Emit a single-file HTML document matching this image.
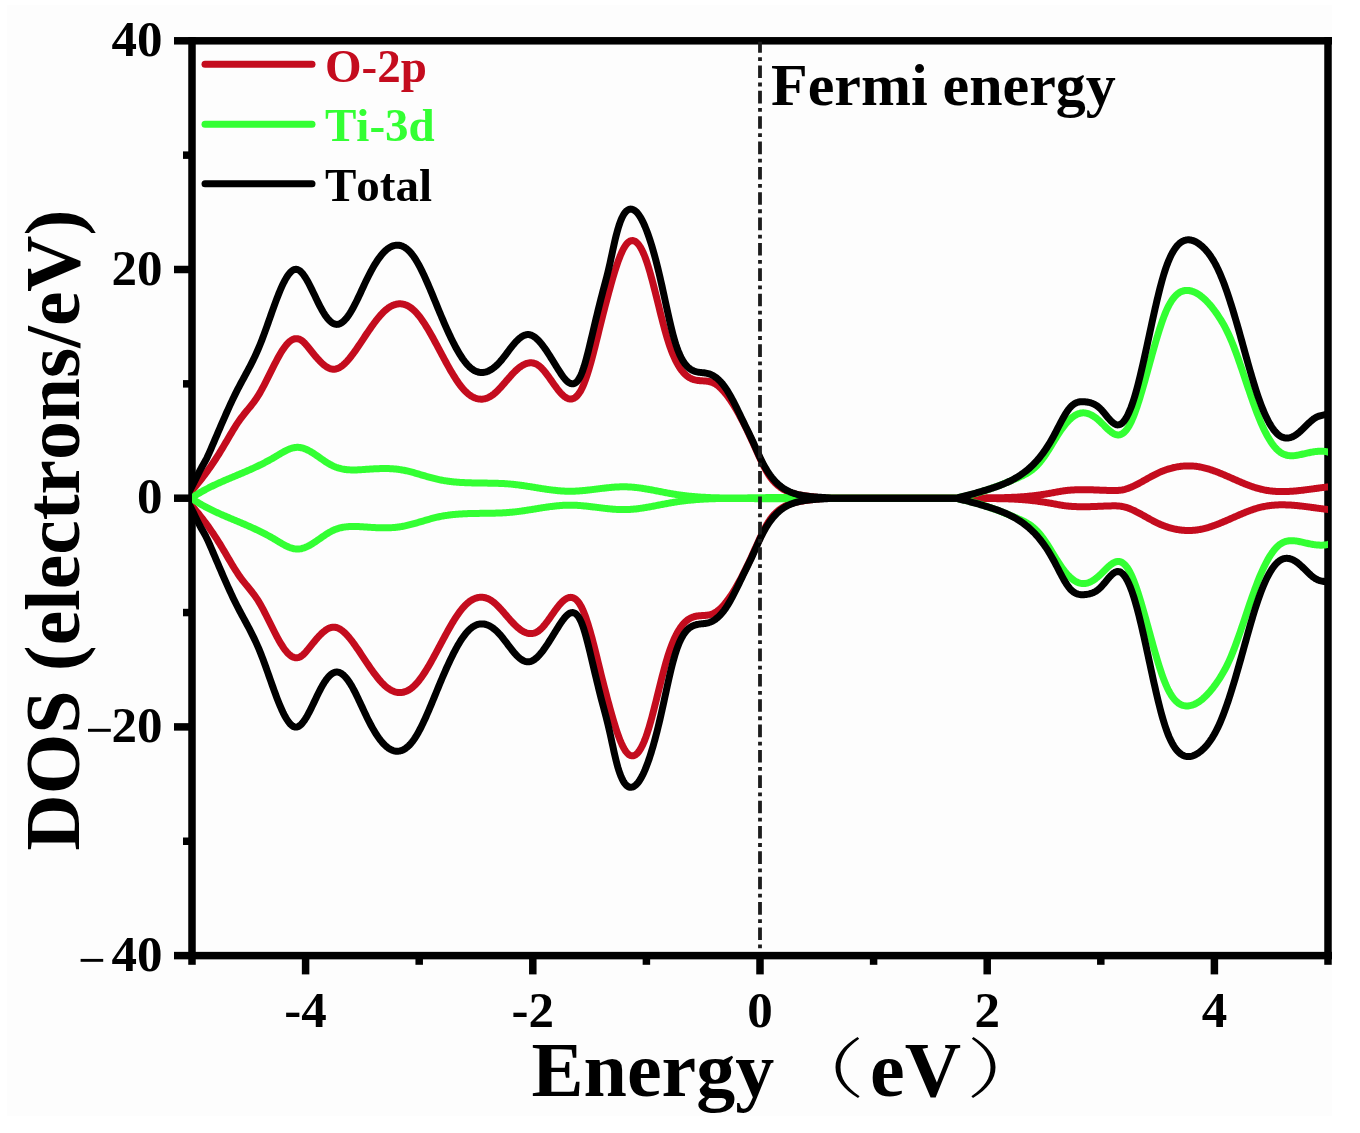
<!DOCTYPE html><html><head><meta charset="utf-8"><style>html,body{margin:0;padding:0;background:#fff;overflow:hidden;}svg{display:block;filter:blur(0.45px);}text{font-family:"Liberation Serif",serif;font-weight:bold;font-kerning:none;}</style></head><body>
<svg width="1360" height="1133" viewBox="0 0 1360 1133">
<rect x="0" y="0" width="1360" height="1133" fill="#ffffff"/>
<rect x="7" y="5" width="1325" height="1111" fill="#fdfdfd"/>
<g fill="#000">
<rect x="174" y="37.05" width="1158" height="7.5"/>
<rect x="174" y="951.85" width="1158" height="7.5"/>
<rect x="188.25" y="37.05" width="7.5" height="927.75"/>
<rect x="1324.25" y="37.05" width="7.5" height="927.75"/>
<rect x="174" y="265.75" width="16" height="7.5"/>
<rect x="174" y="494.45" width="16" height="7.5"/>
<rect x="174" y="723.15" width="16" height="7.5"/>
<rect x="183" y="151.40" width="7" height="7.5"/>
<rect x="183" y="380.10" width="7" height="7.5"/>
<rect x="183" y="608.80" width="7" height="7.5"/>
<rect x="183" y="837.50" width="7" height="7.5"/>
<rect x="301.85" y="957.35" width="7.5" height="17.05"/>
<rect x="529.05" y="957.35" width="7.5" height="17.05"/>
<rect x="756.25" y="957.35" width="7.5" height="17.05"/>
<rect x="983.45" y="957.35" width="7.5" height="17.05"/>
<rect x="1210.65" y="957.35" width="7.5" height="17.05"/>
<rect x="415.45" y="957.35" width="7.5" height="7.45"/>
<rect x="642.65" y="957.35" width="7.5" height="7.45"/>
<rect x="869.85" y="957.35" width="7.5" height="7.45"/>
<rect x="1097.05" y="957.35" width="7.5" height="7.45"/>
</g>
<clipPath id="pc"><rect x="192" y="0" width="1136" height="1133"/></clipPath><g clip-path="url(#pc)">
<path d="M188.0,494.90 189.0,493.80 190.0,492.69 191.0,491.56 192.0,490.43 193.0,489.27 194.0,488.11 195.0,486.93 196.0,485.74 197.0,484.53 198.0,483.31 199.0,482.08 200.0,480.83 201.0,479.56 202.0,478.28 203.0,476.98 204.0,475.66 205.0,474.33 206.0,472.99 207.0,471.62 208.0,470.24 209.0,468.84 210.0,467.42 211.0,465.98 212.0,464.53 213.0,463.06 214.0,461.56 215.0,460.05 216.0,458.52 217.0,456.97 218.0,455.39 219.0,453.80 220.0,452.19 221.0,450.55 222.0,448.90 223.0,447.22 224.0,445.54 225.0,443.84 226.0,442.13 227.0,440.42 228.0,438.71 229.0,437.01 230.0,435.31 231.0,433.62 232.0,431.95 233.0,430.30 234.0,428.66 235.0,427.06 236.0,425.48 237.0,423.93 238.0,422.42 239.0,420.95 240.0,419.52 241.0,418.14 242.0,416.81 243.0,415.51 244.0,414.24 245.0,413.00 246.0,411.78 247.0,410.57 248.0,409.36 249.0,408.14 250.0,406.92 251.0,405.68 252.0,404.41 253.0,403.12 254.0,401.79 255.0,400.41 256.0,398.98 257.0,397.49 258.0,395.93 259.0,394.31 260.0,392.62 261.0,390.87 262.0,389.06 263.0,387.21 264.0,385.31 265.0,383.38 266.0,381.42 267.0,379.44 268.0,377.43 269.0,375.42 270.0,373.40 271.0,371.38 272.0,369.37 273.0,367.37 274.0,365.39 275.0,363.43 276.0,361.51 277.0,359.62 278.0,357.77 279.0,355.98 280.0,354.24 281.0,352.56 282.0,350.95 283.0,349.41 284.0,347.95 285.0,346.58 286.0,345.30 287.0,344.12 288.0,343.04 289.0,342.08 290.0,341.22 291.0,340.49 292.0,339.87 293.0,339.37 294.0,339.00 295.0,338.75 296.0,338.63 297.0,338.64 298.0,338.78 299.0,339.06 300.0,339.47 301.0,340.02 302.0,340.72 303.0,341.55 304.0,342.49 305.0,343.53 306.0,344.65 307.0,345.83 308.0,347.05 309.0,348.29 310.0,349.54 311.0,350.79 312.0,352.03 313.0,353.27 314.0,354.49 315.0,355.69 316.0,356.87 317.0,358.03 318.0,359.15 319.0,360.24 320.0,361.29 321.0,362.29 322.0,363.24 323.0,364.14 324.0,364.98 325.0,365.76 326.0,366.48 327.0,367.12 328.0,367.68 329.0,368.17 330.0,368.57 331.0,368.88 332.0,369.10 333.0,369.22 334.0,369.24 335.0,369.15 336.0,368.96 337.0,368.68 338.0,368.30 339.0,367.83 340.0,367.27 341.0,366.63 342.0,365.92 343.0,365.12 344.0,364.26 345.0,363.33 346.0,362.34 347.0,361.28 348.0,360.17 349.0,359.01 350.0,357.79 351.0,356.54 352.0,355.24 353.0,353.90 354.0,352.53 355.0,351.13 356.0,349.71 357.0,348.26 358.0,346.80 359.0,345.32 360.0,343.83 361.0,342.33 362.0,340.82 363.0,339.32 364.0,337.81 365.0,336.31 366.0,334.81 367.0,333.32 368.0,331.84 369.0,330.37 370.0,328.92 371.0,327.49 372.0,326.07 373.0,324.68 374.0,323.31 375.0,321.97 376.0,320.66 377.0,319.39 378.0,318.14 379.0,316.94 380.0,315.77 381.0,314.65 382.0,313.57 383.0,312.54 384.0,311.56 385.0,310.63 386.0,309.75 387.0,308.93 388.0,308.18 389.0,307.48 390.0,306.84 391.0,306.26 392.0,305.74 393.0,305.29 394.0,304.89 395.0,304.56 396.0,304.29 397.0,304.08 398.0,303.93 399.0,303.85 400.0,303.83 401.0,303.87 402.0,303.98 403.0,304.15 404.0,304.39 405.0,304.69 406.0,305.06 407.0,305.49 408.0,305.99 409.0,306.56 410.0,307.19 411.0,307.89 412.0,308.65 413.0,309.49 414.0,310.39 415.0,311.36 416.0,312.40 417.0,313.50 418.0,314.67 419.0,315.90 420.0,317.19 421.0,318.54 422.0,319.94 423.0,321.39 424.0,322.89 425.0,324.43 426.0,326.01 427.0,327.64 428.0,329.30 429.0,330.99 430.0,332.72 431.0,334.47 432.0,336.25 433.0,338.05 434.0,339.87 435.0,341.71 436.0,343.56 437.0,345.43 438.0,347.30 439.0,349.18 440.0,351.06 441.0,352.94 442.0,354.82 443.0,356.69 444.0,358.56 445.0,360.41 446.0,362.25 447.0,364.08 448.0,365.88 449.0,367.66 450.0,369.42 451.0,371.15 452.0,372.85 453.0,374.51 454.0,376.14 455.0,377.73 456.0,379.28 457.0,380.79 458.0,382.24 459.0,383.65 460.0,385.01 461.0,386.30 462.0,387.54 463.0,388.72 464.0,389.84 465.0,390.89 466.0,391.88 467.0,392.81 468.0,393.68 469.0,394.48 470.0,395.22 471.0,395.89 472.0,396.50 473.0,397.05 474.0,397.54 475.0,397.96 476.0,398.32 477.0,398.62 478.0,398.85 479.0,399.02 480.0,399.12 481.0,399.17 482.0,399.14 483.0,399.06 484.0,398.91 485.0,398.70 486.0,398.42 487.0,398.08 488.0,397.67 489.0,397.20 490.0,396.67 491.0,396.07 492.0,395.41 493.0,394.68 494.0,393.89 495.0,393.04 496.0,392.15 497.0,391.20 498.0,390.21 499.0,389.18 500.0,388.12 501.0,387.03 502.0,385.92 503.0,384.78 504.0,383.63 505.0,382.47 506.0,381.31 507.0,380.14 508.0,378.98 509.0,377.83 510.0,376.69 511.0,375.57 512.0,374.47 513.0,373.40 514.0,372.37 515.0,371.36 516.0,370.41 517.0,369.49 518.0,368.62 519.0,367.81 520.0,367.04 521.0,366.33 522.0,365.67 523.0,365.08 524.0,364.55 525.0,364.08 526.0,363.68 527.0,363.35 528.0,363.10 529.0,362.92 530.0,362.81 531.0,362.79 532.0,362.85 533.0,363.00 534.0,363.23 535.0,363.55 536.0,363.97 537.0,364.48 538.0,365.10 539.0,365.81 540.0,366.62 541.0,367.54 542.0,368.54 543.0,369.61 544.0,370.77 545.0,371.98 546.0,373.25 547.0,374.57 548.0,375.92 549.0,377.31 550.0,378.72 551.0,380.14 552.0,381.57 553.0,382.99 554.0,384.41 555.0,385.81 556.0,387.18 557.0,388.51 558.0,389.80 559.0,391.04 560.0,392.22 561.0,393.33 562.0,394.36 563.0,395.31 564.0,396.17 565.0,396.93 566.0,397.58 567.0,398.12 568.0,398.54 569.0,398.84 570.0,399.01 571.0,399.03 572.0,398.91 573.0,398.64 574.0,398.21 575.0,397.61 576.0,396.84 577.0,395.90 578.0,394.76 579.0,393.44 580.0,391.91 581.0,390.18 582.0,388.23 583.0,386.07 584.0,383.69 585.0,381.11 586.0,378.34 587.0,375.38 588.0,372.26 589.0,368.99 590.0,365.57 591.0,362.02 592.0,358.36 593.0,354.59 594.0,350.72 595.0,346.78 596.0,342.77 597.0,338.71 598.0,334.62 599.0,330.53 600.0,326.46 601.0,322.41 602.0,318.42 603.0,314.48 604.0,310.58 605.0,306.73 606.0,302.91 607.0,299.12 608.0,295.37 609.0,291.66 610.0,287.99 611.0,284.39 612.0,280.85 613.0,277.39 614.0,274.03 615.0,270.77 616.0,267.63 617.0,264.61 618.0,261.72 619.0,258.98 620.0,256.40 621.0,253.99 622.0,251.75 623.0,249.70 624.0,247.85 625.0,246.20 626.0,244.76 627.0,243.54 628.0,242.53 629.0,241.72 630.0,241.13 631.0,240.75 632.0,240.57 633.0,240.61 634.0,240.85 635.0,241.30 636.0,241.95 637.0,242.81 638.0,243.88 639.0,245.15 640.0,246.62 641.0,248.30 642.0,250.19 643.0,252.27 644.0,254.56 645.0,257.05 646.0,259.74 647.0,262.63 648.0,265.71 649.0,268.97 650.0,272.38 651.0,275.93 652.0,279.60 653.0,283.38 654.0,287.25 655.0,291.18 656.0,295.17 657.0,299.19 658.0,303.23 659.0,307.27 660.0,311.29 661.0,315.28 662.0,319.21 663.0,323.08 664.0,326.85 665.0,330.53 666.0,334.08 667.0,337.49 668.0,340.75 669.0,343.84 670.0,346.77 671.0,349.54 672.0,352.16 673.0,354.63 674.0,356.95 675.0,359.14 676.0,361.19 677.0,363.11 678.0,364.90 679.0,366.57 680.0,368.12 681.0,369.55 682.0,370.87 683.0,372.09 684.0,373.21 685.0,374.22 686.0,375.15 687.0,375.98 688.0,376.73 689.0,377.40 690.0,377.99 691.0,378.51 692.0,378.96 693.0,379.34 694.0,379.67 695.0,379.94 696.0,380.16 697.0,380.34 698.0,380.48 699.0,380.59 700.0,380.68 701.0,380.75 702.0,380.81 703.0,380.87 704.0,380.93 705.0,381.00 706.0,381.09 707.0,381.20 708.0,381.34 709.0,381.52 710.0,381.74 711.0,382.02 712.0,382.35 713.0,382.74 714.0,383.21 715.0,383.75 716.0,384.36 717.0,385.05 718.0,385.81 719.0,386.63 720.0,387.52 721.0,388.47 722.0,389.49 723.0,390.56 724.0,391.69 725.0,392.87 726.0,394.10 727.0,395.39 728.0,396.72 729.0,398.11 730.0,399.54 731.0,401.03 732.0,402.55 733.0,404.12 734.0,405.74 735.0,407.39 736.0,409.09 737.0,410.82 738.0,412.60 739.0,414.41 740.0,416.25 741.0,418.13 742.0,420.04 743.0,421.99 744.0,423.97 745.0,425.97 746.0,428.00 747.0,430.06 748.0,432.15 749.0,434.26 750.0,436.39 751.0,438.55 752.0,440.72 753.0,442.92 754.0,445.13 755.0,447.35 756.0,449.58 757.0,451.80 758.0,454.00 759.0,456.19 760.0,458.35 761.0,460.47 762.0,462.56 763.0,464.59 764.0,466.56 765.0,468.47 766.0,470.30 767.0,472.05 768.0,473.71 769.0,475.28 770.0,476.74 771.0,478.11 772.0,479.39 773.0,480.59 774.0,481.70 775.0,482.75 776.0,483.73 777.0,484.65 778.0,485.51 779.0,486.32 780.0,487.08 781.0,487.80 782.0,488.48 783.0,489.11 784.0,489.69 785.0,490.24 786.0,490.76 787.0,491.23 788.0,491.67 789.0,492.08 790.0,492.46 791.0,492.82 792.0,493.14 793.0,493.44 794.0,493.72 795.0,493.97 796.0,494.21 797.0,494.43 798.0,494.63 799.0,494.82 800.0,495.00 801.0,495.17 802.0,495.33 803.0,495.48 804.0,495.63 805.0,495.77 806.0,495.91 807.0,496.05 808.0,496.19 809.0,496.32 810.0,496.45 811.0,496.58 812.0,496.71 813.0,496.83 814.0,496.95 815.0,497.07 816.0,497.18 817.0,497.30 818.0,497.41 819.0,497.51 820.0,497.62 821.0,497.72 822.0,497.82 823.0,497.92 824.0,498.01 825.0,498.20 826.0,498.20 827.0,498.20 828.0,498.20 829.0,498.20 830.0,498.20 831.0,498.20 832.0,498.20 833.0,498.20 834.0,498.20 835.0,498.20 836.0,498.20 837.0,498.20 838.0,498.20 839.0,498.20 840.0,498.20 841.0,498.20 842.0,498.20 843.0,498.20 844.0,498.20 845.0,498.20 846.0,498.20 847.0,498.20 848.0,498.20 849.0,498.20 850.0,498.20 851.0,498.20 852.0,498.20 853.0,498.20 854.0,498.20 855.0,498.20 856.0,498.20 857.0,498.20 858.0,498.20 859.0,498.20 860.0,498.20 861.0,498.20 862.0,498.20 863.0,498.20 864.0,498.20 865.0,498.20 866.0,498.20 867.0,498.20 868.0,498.20 869.0,498.20 870.0,498.20 871.0,498.20 872.0,498.20 873.0,498.20 874.0,498.20 875.0,498.20 876.0,498.20 877.0,498.20 878.0,498.20 879.0,498.20 880.0,498.20 881.0,498.20 882.0,498.20 883.0,498.20 884.0,498.20 885.0,498.20 886.0,498.20 887.0,498.20 888.0,498.20 889.0,498.20 890.0,498.20 891.0,498.20 892.0,498.20 893.0,498.20 894.0,498.20 895.0,498.20 896.0,498.20 897.0,498.20 898.0,498.20 899.0,498.20 900.0,498.20 901.0,498.20 902.0,498.20 903.0,498.20 904.0,498.20 905.0,498.20 906.0,498.20 907.0,498.20 908.0,498.20 909.0,498.20 910.0,498.20 911.0,498.20 912.0,498.20 913.0,498.20 914.0,498.20 915.0,498.20 916.0,498.20 917.0,498.20 918.0,498.20 919.0,498.20 920.0,498.20 921.0,498.20 922.0,498.20 923.0,498.20 924.0,498.20 925.0,498.20 926.0,498.20 927.0,498.20 928.0,498.20 929.0,498.20 930.0,498.20 931.0,498.20 932.0,498.20 933.0,498.20 934.0,498.20 935.0,498.20 936.0,498.20 937.0,498.20 938.0,498.20 939.0,498.20 940.0,498.20 941.0,498.20 942.0,498.20 943.0,498.20 944.0,498.20 945.0,498.20 946.0,498.20 947.0,498.20 948.0,498.20 949.0,498.20 950.0,498.20 951.0,498.20 952.0,498.20 953.0,498.20 954.0,498.20 955.0,498.20 956.0,498.20 957.0,498.20 958.0,498.20 959.0,498.20 960.0,498.20 961.0,498.20 962.0,498.20 963.0,498.20 964.0,498.20 965.0,498.20 966.0,498.20 967.0,498.20 968.0,498.20 969.0,498.20 970.0,498.20 971.0,498.20 972.0,498.20 973.0,498.20 974.0,498.20 975.0,498.20 976.0,497.95 977.0,497.94 978.0,497.93 979.0,497.92 980.0,497.91 981.0,497.90 982.0,497.90 983.0,497.89 984.0,497.89 985.0,497.88 986.0,497.87 987.0,497.87 988.0,497.86 989.0,497.85 990.0,497.85 991.0,497.84 992.0,497.83 993.0,497.82 994.0,497.81 995.0,497.80 996.0,497.79 997.0,497.77 998.0,497.76 999.0,497.74 1000.0,497.73 1001.0,497.71 1002.0,497.69 1003.0,497.67 1004.0,497.64 1005.0,497.62 1006.0,497.59 1007.0,497.56 1008.0,497.53 1009.0,497.49 1010.0,497.46 1011.0,497.42 1012.0,497.37 1013.0,497.33 1014.0,497.28 1015.0,497.23 1016.0,497.18 1017.0,497.12 1018.0,497.06 1019.0,497.00 1020.0,496.93 1021.0,496.86 1022.0,496.79 1023.0,496.71 1024.0,496.63 1025.0,496.55 1026.0,496.46 1027.0,496.37 1028.0,496.27 1029.0,496.17 1030.0,496.07 1031.0,495.97 1032.0,495.86 1033.0,495.75 1034.0,495.63 1035.0,495.51 1036.0,495.39 1037.0,495.26 1038.0,495.13 1039.0,494.99 1040.0,494.86 1041.0,494.71 1042.0,494.57 1043.0,494.42 1044.0,494.27 1045.0,494.11 1046.0,493.95 1047.0,493.79 1048.0,493.62 1049.0,493.45 1050.0,493.28 1051.0,493.10 1052.0,492.92 1053.0,492.73 1054.0,492.55 1055.0,492.36 1056.0,492.17 1057.0,491.98 1058.0,491.80 1059.0,491.62 1060.0,491.44 1061.0,491.27 1062.0,491.11 1063.0,490.96 1064.0,490.81 1065.0,490.68 1066.0,490.55 1067.0,490.44 1068.0,490.33 1069.0,490.24 1070.0,490.15 1071.0,490.07 1072.0,490.00 1073.0,489.93 1074.0,489.88 1075.0,489.83 1076.0,489.79 1077.0,489.75 1078.0,489.72 1079.0,489.70 1080.0,489.68 1081.0,489.67 1082.0,489.66 1083.0,489.66 1084.0,489.67 1085.0,489.67 1086.0,489.69 1087.0,489.70 1088.0,489.72 1089.0,489.75 1090.0,489.77 1091.0,489.80 1092.0,489.83 1093.0,489.87 1094.0,489.90 1095.0,489.94 1096.0,489.98 1097.0,490.02 1098.0,490.06 1099.0,490.10 1100.0,490.14 1101.0,490.18 1102.0,490.22 1103.0,490.26 1104.0,490.30 1105.0,490.34 1106.0,490.37 1107.0,490.41 1108.0,490.44 1109.0,490.47 1110.0,490.50 1111.0,490.52 1112.0,490.54 1113.0,490.56 1114.0,490.56 1115.0,490.55 1116.0,490.53 1117.0,490.50 1118.0,490.44 1119.0,490.36 1120.0,490.26 1121.0,490.13 1122.0,489.97 1123.0,489.78 1124.0,489.55 1125.0,489.30 1126.0,489.01 1127.0,488.70 1128.0,488.37 1129.0,488.00 1130.0,487.62 1131.0,487.21 1132.0,486.78 1133.0,486.33 1134.0,485.87 1135.0,485.39 1136.0,484.89 1137.0,484.38 1138.0,483.86 1139.0,483.33 1140.0,482.79 1141.0,482.24 1142.0,481.68 1143.0,481.12 1144.0,480.56 1145.0,480.00 1146.0,479.43 1147.0,478.87 1148.0,478.31 1149.0,477.75 1150.0,477.19 1151.0,476.65 1152.0,476.11 1153.0,475.57 1154.0,475.05 1155.0,474.54 1156.0,474.04 1157.0,473.55 1158.0,473.08 1159.0,472.62 1160.0,472.17 1161.0,471.74 1162.0,471.33 1163.0,470.93 1164.0,470.55 1165.0,470.18 1166.0,469.82 1167.0,469.48 1168.0,469.16 1169.0,468.85 1170.0,468.56 1171.0,468.28 1172.0,468.01 1173.0,467.76 1174.0,467.53 1175.0,467.31 1176.0,467.11 1177.0,466.92 1178.0,466.75 1179.0,466.60 1180.0,466.46 1181.0,466.33 1182.0,466.22 1183.0,466.13 1184.0,466.05 1185.0,465.98 1186.0,465.94 1187.0,465.91 1188.0,465.89 1189.0,465.89 1190.0,465.90 1191.0,465.94 1192.0,465.98 1193.0,466.05 1194.0,466.12 1195.0,466.22 1196.0,466.33 1197.0,466.46 1198.0,466.60 1199.0,466.76 1200.0,466.93 1201.0,467.12 1202.0,467.33 1203.0,467.55 1204.0,467.79 1205.0,468.04 1206.0,468.30 1207.0,468.58 1208.0,468.87 1209.0,469.17 1210.0,469.48 1211.0,469.80 1212.0,470.14 1213.0,470.48 1214.0,470.84 1215.0,471.20 1216.0,471.57 1217.0,471.95 1218.0,472.34 1219.0,472.74 1220.0,473.14 1221.0,473.55 1222.0,473.96 1223.0,474.38 1224.0,474.80 1225.0,475.23 1226.0,475.66 1227.0,476.10 1228.0,476.53 1229.0,476.97 1230.0,477.42 1231.0,477.86 1232.0,478.30 1233.0,478.74 1234.0,479.19 1235.0,479.63 1236.0,480.07 1237.0,480.51 1238.0,480.95 1239.0,481.38 1240.0,481.81 1241.0,482.24 1242.0,482.66 1243.0,483.08 1244.0,483.49 1245.0,483.90 1246.0,484.30 1247.0,484.69 1248.0,485.08 1249.0,485.46 1250.0,485.83 1251.0,486.19 1252.0,486.55 1253.0,486.89 1254.0,487.22 1255.0,487.54 1256.0,487.86 1257.0,488.16 1258.0,488.44 1259.0,488.72 1260.0,488.98 1261.0,489.23 1262.0,489.46 1263.0,489.68 1264.0,489.89 1265.0,490.08 1266.0,490.26 1267.0,490.43 1268.0,490.58 1269.0,490.72 1270.0,490.85 1271.0,490.97 1272.0,491.08 1273.0,491.17 1274.0,491.26 1275.0,491.33 1276.0,491.40 1277.0,491.45 1278.0,491.49 1279.0,491.53 1280.0,491.55 1281.0,491.57 1282.0,491.58 1283.0,491.58 1284.0,491.57 1285.0,491.55 1286.0,491.52 1287.0,491.49 1288.0,491.45 1289.0,491.40 1290.0,491.35 1291.0,491.29 1292.0,491.22 1293.0,491.15 1294.0,491.07 1295.0,490.98 1296.0,490.89 1297.0,490.80 1298.0,490.70 1299.0,490.60 1300.0,490.49 1301.0,490.38 1302.0,490.27 1303.0,490.15 1304.0,490.03 1305.0,489.90 1306.0,489.78 1307.0,489.65 1308.0,489.52 1309.0,489.39 1310.0,489.25 1311.0,489.12 1312.0,488.98 1313.0,488.85 1314.0,488.71 1315.0,488.57 1316.0,488.44 1317.0,488.30 1318.0,488.17 1319.0,488.03 1320.0,487.90 1321.0,487.77 1322.0,487.64 1323.0,487.51 1324.0,487.38 1325.0,487.26 1326.0,487.14 1327.0,487.02 1328.0,486.91 1329.0,486.79 1330.0,486.69 1331.0,486.58 1332.0,486.49" stroke="#c40c1e" stroke-width="7" fill="none" stroke-linejoin="round"/>
<path d="M188.0,501.50 189.0,502.60 190.0,503.71 191.0,504.84 192.0,505.97 193.0,507.13 194.0,508.29 195.0,509.47 196.0,510.66 197.0,511.87 198.0,513.09 199.0,514.32 200.0,515.57 201.0,516.84 202.0,518.12 203.0,519.42 204.0,520.74 205.0,522.07 206.0,523.41 207.0,524.78 208.0,526.16 209.0,527.56 210.0,528.98 211.0,530.42 212.0,531.87 213.0,533.34 214.0,534.84 215.0,536.35 216.0,537.88 217.0,539.43 218.0,541.01 219.0,542.60 220.0,544.21 221.0,545.85 222.0,547.50 223.0,549.18 224.0,550.86 225.0,552.56 226.0,554.27 227.0,555.98 228.0,557.69 229.0,559.39 230.0,561.09 231.0,562.78 232.0,564.45 233.0,566.10 234.0,567.74 235.0,569.34 236.0,570.92 237.0,572.47 238.0,573.98 239.0,575.45 240.0,576.88 241.0,578.26 242.0,579.59 243.0,580.89 244.0,582.16 245.0,583.40 246.0,584.62 247.0,585.83 248.0,587.04 249.0,588.26 250.0,589.48 251.0,590.72 252.0,591.99 253.0,593.28 254.0,594.61 255.0,595.99 256.0,597.42 257.0,598.91 258.0,600.47 259.0,602.09 260.0,603.78 261.0,605.53 262.0,607.34 263.0,609.19 264.0,611.09 265.0,613.02 266.0,614.98 267.0,616.96 268.0,618.97 269.0,620.98 270.0,623.00 271.0,625.02 272.0,627.03 273.0,629.03 274.0,631.01 275.0,632.97 276.0,634.89 277.0,636.78 278.0,638.63 279.0,640.42 280.0,642.16 281.0,643.84 282.0,645.45 283.0,646.99 284.0,648.45 285.0,649.82 286.0,651.10 287.0,652.28 288.0,653.36 289.0,654.32 290.0,655.18 291.0,655.91 292.0,656.53 293.0,657.03 294.0,657.40 295.0,657.65 296.0,657.77 297.0,657.76 298.0,657.62 299.0,657.34 300.0,656.93 301.0,656.38 302.0,655.68 303.0,654.85 304.0,653.91 305.0,652.87 306.0,651.75 307.0,650.57 308.0,649.35 309.0,648.11 310.0,646.86 311.0,645.61 312.0,644.37 313.0,643.13 314.0,641.91 315.0,640.71 316.0,639.53 317.0,638.37 318.0,637.25 319.0,636.16 320.0,635.11 321.0,634.11 322.0,633.16 323.0,632.26 324.0,631.42 325.0,630.64 326.0,629.92 327.0,629.28 328.0,628.72 329.0,628.23 330.0,627.83 331.0,627.52 332.0,627.30 333.0,627.18 334.0,627.16 335.0,627.25 336.0,627.44 337.0,627.72 338.0,628.10 339.0,628.57 340.0,629.13 341.0,629.77 342.0,630.48 343.0,631.28 344.0,632.14 345.0,633.07 346.0,634.06 347.0,635.12 348.0,636.23 349.0,637.39 350.0,638.61 351.0,639.86 352.0,641.16 353.0,642.50 354.0,643.87 355.0,645.27 356.0,646.69 357.0,648.14 358.0,649.60 359.0,651.08 360.0,652.57 361.0,654.07 362.0,655.58 363.0,657.08 364.0,658.59 365.0,660.09 366.0,661.59 367.0,663.08 368.0,664.56 369.0,666.03 370.0,667.48 371.0,668.91 372.0,670.33 373.0,671.72 374.0,673.09 375.0,674.43 376.0,675.74 377.0,677.01 378.0,678.26 379.0,679.46 380.0,680.63 381.0,681.75 382.0,682.83 383.0,683.86 384.0,684.84 385.0,685.77 386.0,686.65 387.0,687.47 388.0,688.22 389.0,688.92 390.0,689.56 391.0,690.14 392.0,690.66 393.0,691.11 394.0,691.51 395.0,691.84 396.0,692.11 397.0,692.32 398.0,692.47 399.0,692.55 400.0,692.57 401.0,692.53 402.0,692.42 403.0,692.25 404.0,692.01 405.0,691.71 406.0,691.34 407.0,690.91 408.0,690.41 409.0,689.84 410.0,689.21 411.0,688.51 412.0,687.75 413.0,686.91 414.0,686.01 415.0,685.04 416.0,684.00 417.0,682.90 418.0,681.73 419.0,680.50 420.0,679.21 421.0,677.86 422.0,676.46 423.0,675.01 424.0,673.51 425.0,671.97 426.0,670.39 427.0,668.76 428.0,667.10 429.0,665.41 430.0,663.68 431.0,661.93 432.0,660.15 433.0,658.35 434.0,656.53 435.0,654.69 436.0,652.84 437.0,650.97 438.0,649.10 439.0,647.22 440.0,645.34 441.0,643.46 442.0,641.58 443.0,639.71 444.0,637.84 445.0,635.99 446.0,634.15 447.0,632.32 448.0,630.52 449.0,628.74 450.0,626.98 451.0,625.25 452.0,623.55 453.0,621.89 454.0,620.26 455.0,618.67 456.0,617.12 457.0,615.61 458.0,614.16 459.0,612.75 460.0,611.39 461.0,610.10 462.0,608.86 463.0,607.68 464.0,606.56 465.0,605.51 466.0,604.52 467.0,603.59 468.0,602.72 469.0,601.92 470.0,601.18 471.0,600.51 472.0,599.90 473.0,599.35 474.0,598.86 475.0,598.44 476.0,598.08 477.0,597.78 478.0,597.55 479.0,597.38 480.0,597.28 481.0,597.23 482.0,597.26 483.0,597.34 484.0,597.49 485.0,597.70 486.0,597.98 487.0,598.32 488.0,598.73 489.0,599.20 490.0,599.73 491.0,600.33 492.0,600.99 493.0,601.72 494.0,602.51 495.0,603.36 496.0,604.25 497.0,605.20 498.0,606.19 499.0,607.22 500.0,608.28 501.0,609.37 502.0,610.48 503.0,611.62 504.0,612.77 505.0,613.93 506.0,615.09 507.0,616.26 508.0,617.42 509.0,618.57 510.0,619.71 511.0,620.83 512.0,621.93 513.0,623.00 514.0,624.03 515.0,625.04 516.0,625.99 517.0,626.91 518.0,627.78 519.0,628.59 520.0,629.36 521.0,630.07 522.0,630.73 523.0,631.32 524.0,631.85 525.0,632.32 526.0,632.72 527.0,633.05 528.0,633.30 529.0,633.48 530.0,633.59 531.0,633.61 532.0,633.55 533.0,633.40 534.0,633.17 535.0,632.85 536.0,632.43 537.0,631.92 538.0,631.30 539.0,630.59 540.0,629.78 541.0,628.86 542.0,627.86 543.0,626.79 544.0,625.63 545.0,624.42 546.0,623.15 547.0,621.83 548.0,620.48 549.0,619.09 550.0,617.68 551.0,616.26 552.0,614.83 553.0,613.41 554.0,611.99 555.0,610.59 556.0,609.22 557.0,607.89 558.0,606.60 559.0,605.36 560.0,604.18 561.0,603.07 562.0,602.04 563.0,601.09 564.0,600.23 565.0,599.47 566.0,598.82 567.0,598.28 568.0,597.86 569.0,597.56 570.0,597.39 571.0,597.37 572.0,597.49 573.0,597.76 574.0,598.19 575.0,598.79 576.0,599.56 577.0,600.50 578.0,601.64 579.0,602.96 580.0,604.49 581.0,606.22 582.0,608.17 583.0,610.33 584.0,612.71 585.0,615.29 586.0,618.06 587.0,621.02 588.0,624.14 589.0,627.41 590.0,630.83 591.0,634.38 592.0,638.04 593.0,641.81 594.0,645.68 595.0,649.62 596.0,653.63 597.0,657.69 598.0,661.78 599.0,665.87 600.0,669.94 601.0,673.99 602.0,677.98 603.0,681.92 604.0,685.82 605.0,689.67 606.0,693.49 607.0,697.28 608.0,701.03 609.0,704.74 610.0,708.41 611.0,712.01 612.0,715.55 613.0,719.01 614.0,722.37 615.0,725.63 616.0,728.77 617.0,731.79 618.0,734.68 619.0,737.42 620.0,740.00 621.0,742.41 622.0,744.65 623.0,746.70 624.0,748.55 625.0,750.20 626.0,751.64 627.0,752.86 628.0,753.87 629.0,754.68 630.0,755.27 631.0,755.65 632.0,755.83 633.0,755.79 634.0,755.55 635.0,755.10 636.0,754.45 637.0,753.59 638.0,752.52 639.0,751.25 640.0,749.78 641.0,748.10 642.0,746.21 643.0,744.13 644.0,741.84 645.0,739.35 646.0,736.66 647.0,733.77 648.0,730.69 649.0,727.43 650.0,724.02 651.0,720.47 652.0,716.80 653.0,713.02 654.0,709.15 655.0,705.22 656.0,701.23 657.0,697.21 658.0,693.17 659.0,689.13 660.0,685.11 661.0,681.12 662.0,677.19 663.0,673.32 664.0,669.55 665.0,665.87 666.0,662.32 667.0,658.91 668.0,655.65 669.0,652.56 670.0,649.63 671.0,646.86 672.0,644.24 673.0,641.77 674.0,639.45 675.0,637.26 676.0,635.21 677.0,633.29 678.0,631.50 679.0,629.83 680.0,628.28 681.0,626.85 682.0,625.53 683.0,624.31 684.0,623.19 685.0,622.18 686.0,621.25 687.0,620.42 688.0,619.67 689.0,619.00 690.0,618.41 691.0,617.89 692.0,617.44 693.0,617.06 694.0,616.73 695.0,616.46 696.0,616.24 697.0,616.06 698.0,615.92 699.0,615.81 700.0,615.72 701.0,615.65 702.0,615.59 703.0,615.53 704.0,615.47 705.0,615.40 706.0,615.31 707.0,615.20 708.0,615.06 709.0,614.88 710.0,614.66 711.0,614.38 712.0,614.05 713.0,613.66 714.0,613.19 715.0,612.65 716.0,612.04 717.0,611.35 718.0,610.59 719.0,609.77 720.0,608.88 721.0,607.93 722.0,606.91 723.0,605.84 724.0,604.71 725.0,603.53 726.0,602.30 727.0,601.01 728.0,599.68 729.0,598.29 730.0,596.86 731.0,595.37 732.0,593.85 733.0,592.28 734.0,590.66 735.0,589.01 736.0,587.31 737.0,585.58 738.0,583.80 739.0,581.99 740.0,580.15 741.0,578.27 742.0,576.36 743.0,574.41 744.0,572.43 745.0,570.43 746.0,568.40 747.0,566.34 748.0,564.25 749.0,562.14 750.0,560.01 751.0,557.85 752.0,555.68 753.0,553.48 754.0,551.27 755.0,549.05 756.0,546.82 757.0,544.60 758.0,542.40 759.0,540.21 760.0,538.05 761.0,535.93 762.0,533.84 763.0,531.81 764.0,529.84 765.0,527.93 766.0,526.10 767.0,524.35 768.0,522.69 769.0,521.12 770.0,519.66 771.0,518.29 772.0,517.01 773.0,515.81 774.0,514.70 775.0,513.65 776.0,512.67 777.0,511.75 778.0,510.89 779.0,510.08 780.0,509.32 781.0,508.60 782.0,507.92 783.0,507.29 784.0,506.71 785.0,506.16 786.0,505.64 787.0,505.17 788.0,504.73 789.0,504.32 790.0,503.94 791.0,503.58 792.0,503.26 793.0,502.96 794.0,502.68 795.0,502.43 796.0,502.19 797.0,501.97 798.0,501.77 799.0,501.58 800.0,501.40 801.0,501.23 802.0,501.07 803.0,500.92 804.0,500.77 805.0,500.63 806.0,500.49 807.0,500.35 808.0,500.21 809.0,500.08 810.0,499.95 811.0,499.82 812.0,499.69 813.0,499.57 814.0,499.45 815.0,499.33 816.0,499.22 817.0,499.10 818.0,498.99 819.0,498.89 820.0,498.78 821.0,498.68 822.0,498.58 823.0,498.48 824.0,498.39 825.0,498.20 826.0,498.20 827.0,498.20 828.0,498.20 829.0,498.20 830.0,498.20 831.0,498.20 832.0,498.20 833.0,498.20 834.0,498.20 835.0,498.20 836.0,498.20 837.0,498.20 838.0,498.20 839.0,498.20 840.0,498.20 841.0,498.20 842.0,498.20 843.0,498.20 844.0,498.20 845.0,498.20 846.0,498.20 847.0,498.20 848.0,498.20 849.0,498.20 850.0,498.20 851.0,498.20 852.0,498.20 853.0,498.20 854.0,498.20 855.0,498.20 856.0,498.20 857.0,498.20 858.0,498.20 859.0,498.20 860.0,498.20 861.0,498.20 862.0,498.20 863.0,498.20 864.0,498.20 865.0,498.20 866.0,498.20 867.0,498.20 868.0,498.20 869.0,498.20 870.0,498.20 871.0,498.20 872.0,498.20 873.0,498.20 874.0,498.20 875.0,498.20 876.0,498.20 877.0,498.20 878.0,498.20 879.0,498.20 880.0,498.20 881.0,498.20 882.0,498.20 883.0,498.20 884.0,498.20 885.0,498.20 886.0,498.20 887.0,498.20 888.0,498.20 889.0,498.20 890.0,498.20 891.0,498.20 892.0,498.20 893.0,498.20 894.0,498.20 895.0,498.20 896.0,498.20 897.0,498.20 898.0,498.20 899.0,498.20 900.0,498.20 901.0,498.20 902.0,498.20 903.0,498.20 904.0,498.20 905.0,498.20 906.0,498.20 907.0,498.20 908.0,498.20 909.0,498.20 910.0,498.20 911.0,498.20 912.0,498.20 913.0,498.20 914.0,498.20 915.0,498.20 916.0,498.20 917.0,498.20 918.0,498.20 919.0,498.20 920.0,498.20 921.0,498.20 922.0,498.20 923.0,498.20 924.0,498.20 925.0,498.20 926.0,498.20 927.0,498.20 928.0,498.20 929.0,498.20 930.0,498.20 931.0,498.20 932.0,498.20 933.0,498.20 934.0,498.20 935.0,498.20 936.0,498.20 937.0,498.20 938.0,498.20 939.0,498.20 940.0,498.20 941.0,498.20 942.0,498.20 943.0,498.20 944.0,498.20 945.0,498.20 946.0,498.20 947.0,498.20 948.0,498.20 949.0,498.20 950.0,498.20 951.0,498.20 952.0,498.20 953.0,498.20 954.0,498.20 955.0,498.20 956.0,498.20 957.0,498.20 958.0,498.20 959.0,498.20 960.0,498.20 961.0,498.20 962.0,498.20 963.0,498.20 964.0,498.20 965.0,498.20 966.0,498.20 967.0,498.20 968.0,498.20 969.0,498.20 970.0,498.20 971.0,498.20 972.0,498.20 973.0,498.20 974.0,498.20 975.0,498.20 976.0,498.45 977.0,498.46 978.0,498.47 979.0,498.48 980.0,498.49 981.0,498.50 982.0,498.50 983.0,498.51 984.0,498.51 985.0,498.52 986.0,498.53 987.0,498.53 988.0,498.54 989.0,498.55 990.0,498.55 991.0,498.56 992.0,498.57 993.0,498.58 994.0,498.59 995.0,498.60 996.0,498.61 997.0,498.63 998.0,498.64 999.0,498.66 1000.0,498.67 1001.0,498.69 1002.0,498.71 1003.0,498.73 1004.0,498.76 1005.0,498.78 1006.0,498.81 1007.0,498.84 1008.0,498.87 1009.0,498.91 1010.0,498.94 1011.0,498.98 1012.0,499.03 1013.0,499.07 1014.0,499.12 1015.0,499.17 1016.0,499.22 1017.0,499.28 1018.0,499.34 1019.0,499.40 1020.0,499.47 1021.0,499.54 1022.0,499.61 1023.0,499.69 1024.0,499.77 1025.0,499.85 1026.0,499.94 1027.0,500.03 1028.0,500.13 1029.0,500.23 1030.0,500.33 1031.0,500.43 1032.0,500.54 1033.0,500.65 1034.0,500.77 1035.0,500.89 1036.0,501.01 1037.0,501.14 1038.0,501.27 1039.0,501.41 1040.0,501.54 1041.0,501.69 1042.0,501.83 1043.0,501.98 1044.0,502.13 1045.0,502.29 1046.0,502.45 1047.0,502.61 1048.0,502.78 1049.0,502.95 1050.0,503.12 1051.0,503.30 1052.0,503.48 1053.0,503.67 1054.0,503.85 1055.0,504.04 1056.0,504.23 1057.0,504.42 1058.0,504.60 1059.0,504.78 1060.0,504.96 1061.0,505.13 1062.0,505.29 1063.0,505.44 1064.0,505.59 1065.0,505.72 1066.0,505.85 1067.0,505.96 1068.0,506.07 1069.0,506.16 1070.0,506.25 1071.0,506.33 1072.0,506.40 1073.0,506.47 1074.0,506.52 1075.0,506.57 1076.0,506.61 1077.0,506.65 1078.0,506.68 1079.0,506.70 1080.0,506.72 1081.0,506.73 1082.0,506.74 1083.0,506.74 1084.0,506.73 1085.0,506.73 1086.0,506.71 1087.0,506.70 1088.0,506.68 1089.0,506.65 1090.0,506.63 1091.0,506.60 1092.0,506.57 1093.0,506.53 1094.0,506.50 1095.0,506.46 1096.0,506.42 1097.0,506.38 1098.0,506.34 1099.0,506.30 1100.0,506.26 1101.0,506.22 1102.0,506.18 1103.0,506.14 1104.0,506.10 1105.0,506.06 1106.0,506.03 1107.0,505.99 1108.0,505.96 1109.0,505.93 1110.0,505.90 1111.0,505.88 1112.0,505.86 1113.0,505.84 1114.0,505.84 1115.0,505.85 1116.0,505.87 1117.0,505.90 1118.0,505.96 1119.0,506.04 1120.0,506.14 1121.0,506.27 1122.0,506.43 1123.0,506.62 1124.0,506.85 1125.0,507.10 1126.0,507.39 1127.0,507.70 1128.0,508.03 1129.0,508.40 1130.0,508.78 1131.0,509.19 1132.0,509.62 1133.0,510.07 1134.0,510.53 1135.0,511.01 1136.0,511.51 1137.0,512.02 1138.0,512.54 1139.0,513.07 1140.0,513.61 1141.0,514.16 1142.0,514.72 1143.0,515.28 1144.0,515.84 1145.0,516.40 1146.0,516.97 1147.0,517.53 1148.0,518.09 1149.0,518.65 1150.0,519.21 1151.0,519.75 1152.0,520.29 1153.0,520.83 1154.0,521.35 1155.0,521.86 1156.0,522.36 1157.0,522.85 1158.0,523.32 1159.0,523.78 1160.0,524.23 1161.0,524.66 1162.0,525.07 1163.0,525.47 1164.0,525.85 1165.0,526.22 1166.0,526.58 1167.0,526.92 1168.0,527.24 1169.0,527.55 1170.0,527.84 1171.0,528.12 1172.0,528.39 1173.0,528.64 1174.0,528.87 1175.0,529.09 1176.0,529.29 1177.0,529.48 1178.0,529.65 1179.0,529.80 1180.0,529.94 1181.0,530.07 1182.0,530.18 1183.0,530.27 1184.0,530.35 1185.0,530.42 1186.0,530.46 1187.0,530.49 1188.0,530.51 1189.0,530.51 1190.0,530.50 1191.0,530.46 1192.0,530.42 1193.0,530.35 1194.0,530.28 1195.0,530.18 1196.0,530.07 1197.0,529.94 1198.0,529.80 1199.0,529.64 1200.0,529.47 1201.0,529.28 1202.0,529.07 1203.0,528.85 1204.0,528.61 1205.0,528.36 1206.0,528.10 1207.0,527.82 1208.0,527.53 1209.0,527.23 1210.0,526.92 1211.0,526.60 1212.0,526.26 1213.0,525.92 1214.0,525.56 1215.0,525.20 1216.0,524.83 1217.0,524.45 1218.0,524.06 1219.0,523.66 1220.0,523.26 1221.0,522.85 1222.0,522.44 1223.0,522.02 1224.0,521.60 1225.0,521.17 1226.0,520.74 1227.0,520.30 1228.0,519.87 1229.0,519.43 1230.0,518.98 1231.0,518.54 1232.0,518.10 1233.0,517.66 1234.0,517.21 1235.0,516.77 1236.0,516.33 1237.0,515.89 1238.0,515.45 1239.0,515.02 1240.0,514.59 1241.0,514.16 1242.0,513.74 1243.0,513.32 1244.0,512.91 1245.0,512.50 1246.0,512.10 1247.0,511.71 1248.0,511.32 1249.0,510.94 1250.0,510.57 1251.0,510.21 1252.0,509.85 1253.0,509.51 1254.0,509.18 1255.0,508.86 1256.0,508.54 1257.0,508.24 1258.0,507.96 1259.0,507.68 1260.0,507.42 1261.0,507.17 1262.0,506.94 1263.0,506.72 1264.0,506.51 1265.0,506.32 1266.0,506.14 1267.0,505.97 1268.0,505.82 1269.0,505.68 1270.0,505.55 1271.0,505.43 1272.0,505.32 1273.0,505.23 1274.0,505.14 1275.0,505.07 1276.0,505.00 1277.0,504.95 1278.0,504.91 1279.0,504.87 1280.0,504.85 1281.0,504.83 1282.0,504.82 1283.0,504.82 1284.0,504.83 1285.0,504.85 1286.0,504.88 1287.0,504.91 1288.0,504.95 1289.0,505.00 1290.0,505.05 1291.0,505.11 1292.0,505.18 1293.0,505.25 1294.0,505.33 1295.0,505.42 1296.0,505.51 1297.0,505.60 1298.0,505.70 1299.0,505.80 1300.0,505.91 1301.0,506.02 1302.0,506.13 1303.0,506.25 1304.0,506.37 1305.0,506.50 1306.0,506.62 1307.0,506.75 1308.0,506.88 1309.0,507.01 1310.0,507.15 1311.0,507.28 1312.0,507.42 1313.0,507.55 1314.0,507.69 1315.0,507.83 1316.0,507.96 1317.0,508.10 1318.0,508.23 1319.0,508.37 1320.0,508.50 1321.0,508.63 1322.0,508.76 1323.0,508.89 1324.0,509.02 1325.0,509.14 1326.0,509.26 1327.0,509.38 1328.0,509.49 1329.0,509.61 1330.0,509.71 1331.0,509.82 1332.0,509.91" stroke="#c40c1e" stroke-width="7" fill="none" stroke-linejoin="round"/>
<path d="M188.0,498.20 189.0,498.20 190.0,498.20 191.0,498.20 192.0,497.58 193.0,496.92 194.0,496.27 195.0,495.63 196.0,495.01 197.0,494.39 198.0,493.79 199.0,493.19 200.0,492.61 201.0,492.03 202.0,491.46 203.0,490.90 204.0,490.36 205.0,489.81 206.0,489.28 207.0,488.76 208.0,488.24 209.0,487.73 210.0,487.22 211.0,486.73 212.0,486.24 213.0,485.75 214.0,485.28 215.0,484.80 216.0,484.34 217.0,483.87 218.0,483.42 219.0,482.96 220.0,482.52 221.0,482.07 222.0,481.63 223.0,481.19 224.0,480.76 225.0,480.33 226.0,479.90 227.0,479.47 228.0,479.05 229.0,478.62 230.0,478.20 231.0,477.78 232.0,477.36 233.0,476.95 234.0,476.53 235.0,476.11 236.0,475.69 237.0,475.27 238.0,474.86 239.0,474.44 240.0,474.01 241.0,473.59 242.0,473.17 243.0,472.74 244.0,472.31 245.0,471.88 246.0,471.45 247.0,471.01 248.0,470.57 249.0,470.13 250.0,469.69 251.0,469.24 252.0,468.79 253.0,468.33 254.0,467.87 255.0,467.41 256.0,466.94 257.0,466.47 258.0,465.99 259.0,465.50 260.0,465.02 261.0,464.52 262.0,464.02 263.0,463.52 264.0,463.01 265.0,462.49 266.0,461.96 267.0,461.43 268.0,460.90 269.0,460.35 270.0,459.80 271.0,459.24 272.0,458.67 273.0,458.10 274.0,457.52 275.0,456.93 276.0,456.33 277.0,455.73 278.0,455.12 279.0,454.52 280.0,453.92 281.0,453.33 282.0,452.74 283.0,452.17 284.0,451.62 285.0,451.09 286.0,450.58 287.0,450.09 288.0,449.64 289.0,449.21 290.0,448.82 291.0,448.47 292.0,448.16 293.0,447.89 294.0,447.68 295.0,447.51 296.0,447.39 297.0,447.33 298.0,447.33 299.0,447.39 300.0,447.51 301.0,447.68 302.0,447.91 303.0,448.18 304.0,448.51 305.0,448.88 306.0,449.29 307.0,449.74 308.0,450.22 309.0,450.74 310.0,451.29 311.0,451.87 312.0,452.47 313.0,453.09 314.0,453.73 315.0,454.39 316.0,455.07 317.0,455.75 318.0,456.45 319.0,457.15 320.0,457.85 321.0,458.55 322.0,459.25 323.0,459.94 324.0,460.62 325.0,461.30 326.0,461.96 327.0,462.60 328.0,463.22 329.0,463.82 330.0,464.40 331.0,464.94 332.0,465.46 333.0,465.94 334.0,466.39 335.0,466.81 336.0,467.20 337.0,467.55 338.0,467.88 339.0,468.17 340.0,468.44 341.0,468.69 342.0,468.91 343.0,469.10 344.0,469.27 345.0,469.42 346.0,469.55 347.0,469.66 348.0,469.75 349.0,469.82 350.0,469.88 351.0,469.92 352.0,469.94 353.0,469.96 354.0,469.96 355.0,469.94 356.0,469.92 357.0,469.89 358.0,469.85 359.0,469.80 360.0,469.75 361.0,469.69 362.0,469.63 363.0,469.56 364.0,469.49 365.0,469.42 366.0,469.35 367.0,469.29 368.0,469.22 369.0,469.15 370.0,469.09 371.0,469.03 372.0,468.97 373.0,468.91 374.0,468.85 375.0,468.80 376.0,468.75 377.0,468.71 378.0,468.67 379.0,468.64 380.0,468.61 381.0,468.58 382.0,468.56 383.0,468.55 384.0,468.54 385.0,468.55 386.0,468.55 387.0,468.57 388.0,468.59 389.0,468.62 390.0,468.66 391.0,468.71 392.0,468.77 393.0,468.84 394.0,468.91 395.0,469.00 396.0,469.10 397.0,469.21 398.0,469.33 399.0,469.46 400.0,469.61 401.0,469.76 402.0,469.93 403.0,470.12 404.0,470.31 405.0,470.51 406.0,470.73 407.0,470.95 408.0,471.19 409.0,471.43 410.0,471.68 411.0,471.93 412.0,472.20 413.0,472.47 414.0,472.74 415.0,473.03 416.0,473.31 417.0,473.60 418.0,473.89 419.0,474.18 420.0,474.48 421.0,474.78 422.0,475.07 423.0,475.37 424.0,475.67 425.0,475.96 426.0,476.26 427.0,476.55 428.0,476.84 429.0,477.12 430.0,477.40 431.0,477.68 432.0,477.95 433.0,478.21 434.0,478.47 435.0,478.72 436.0,478.96 437.0,479.20 438.0,479.42 439.0,479.64 440.0,479.85 441.0,480.04 442.0,480.23 443.0,480.41 444.0,480.58 445.0,480.75 446.0,480.90 447.0,481.05 448.0,481.19 449.0,481.33 450.0,481.46 451.0,481.58 452.0,481.69 453.0,481.80 454.0,481.90 455.0,481.99 456.0,482.08 457.0,482.17 458.0,482.25 459.0,482.32 460.0,482.39 461.0,482.45 462.0,482.51 463.0,482.57 464.0,482.62 465.0,482.66 466.0,482.71 467.0,482.75 468.0,482.78 469.0,482.81 470.0,482.84 471.0,482.87 472.0,482.90 473.0,482.92 474.0,482.94 475.0,482.96 476.0,482.98 477.0,482.99 478.0,483.01 479.0,483.02 480.0,483.03 481.0,483.04 482.0,483.06 483.0,483.07 484.0,483.08 485.0,483.09 486.0,483.10 487.0,483.11 488.0,483.13 489.0,483.14 490.0,483.16 491.0,483.17 492.0,483.19 493.0,483.21 494.0,483.23 495.0,483.26 496.0,483.29 497.0,483.32 498.0,483.35 499.0,483.38 500.0,483.42 501.0,483.47 502.0,483.51 503.0,483.56 504.0,483.61 505.0,483.67 506.0,483.74 507.0,483.80 508.0,483.88 509.0,483.95 510.0,484.04 511.0,484.12 512.0,484.22 513.0,484.32 514.0,484.42 515.0,484.53 516.0,484.65 517.0,484.77 518.0,484.89 519.0,485.02 520.0,485.16 521.0,485.29 522.0,485.43 523.0,485.58 524.0,485.72 525.0,485.87 526.0,486.03 527.0,486.18 528.0,486.34 529.0,486.50 530.0,486.65 531.0,486.82 532.0,486.98 533.0,487.14 534.0,487.30 535.0,487.46 536.0,487.63 537.0,487.79 538.0,487.95 539.0,488.11 540.0,488.27 541.0,488.43 542.0,488.59 543.0,488.74 544.0,488.89 545.0,489.04 546.0,489.19 547.0,489.34 548.0,489.48 549.0,489.61 550.0,489.75 551.0,489.88 552.0,490.00 553.0,490.13 554.0,490.24 555.0,490.35 556.0,490.46 557.0,490.56 558.0,490.66 559.0,490.75 560.0,490.83 561.0,490.90 562.0,490.97 563.0,491.04 564.0,491.09 565.0,491.14 566.0,491.18 567.0,491.21 568.0,491.23 569.0,491.25 570.0,491.25 571.0,491.25 572.0,491.24 573.0,491.21 574.0,491.19 575.0,491.15 576.0,491.10 577.0,491.05 578.0,490.99 579.0,490.92 580.0,490.85 581.0,490.77 582.0,490.69 583.0,490.60 584.0,490.51 585.0,490.41 586.0,490.31 587.0,490.20 588.0,490.09 589.0,489.98 590.0,489.86 591.0,489.74 592.0,489.62 593.0,489.50 594.0,489.38 595.0,489.25 596.0,489.13 597.0,489.00 598.0,488.88 599.0,488.76 600.0,488.63 601.0,488.51 602.0,488.39 603.0,488.27 604.0,488.15 605.0,488.03 606.0,487.92 607.0,487.81 608.0,487.71 609.0,487.61 610.0,487.51 611.0,487.42 612.0,487.33 613.0,487.25 614.0,487.17 615.0,487.10 616.0,487.03 617.0,486.98 618.0,486.92 619.0,486.88 620.0,486.84 621.0,486.82 622.0,486.80 623.0,486.79 624.0,486.78 625.0,486.79 626.0,486.81 627.0,486.84 628.0,486.88 629.0,486.92 630.0,486.98 631.0,487.05 632.0,487.12 633.0,487.21 634.0,487.30 635.0,487.40 636.0,487.50 637.0,487.62 638.0,487.74 639.0,487.87 640.0,488.00 641.0,488.14 642.0,488.29 643.0,488.44 644.0,488.60 645.0,488.76 646.0,488.92 647.0,489.09 648.0,489.27 649.0,489.44 650.0,489.63 651.0,489.81 652.0,490.00 653.0,490.18 654.0,490.37 655.0,490.57 656.0,490.76 657.0,490.96 658.0,491.15 659.0,491.35 660.0,491.54 661.0,491.74 662.0,491.93 663.0,492.13 664.0,492.32 665.0,492.52 666.0,492.71 667.0,492.89 668.0,493.08 669.0,493.26 670.0,493.45 671.0,493.62 672.0,493.80 673.0,493.97 674.0,494.13 675.0,494.29 676.0,494.45 677.0,494.60 678.0,494.75 679.0,494.90 680.0,495.04 681.0,495.17 682.0,495.31 683.0,495.44 684.0,495.56 685.0,495.68 686.0,495.80 687.0,495.91 688.0,496.02 689.0,496.12 690.0,496.23 691.0,496.33 692.0,496.42 693.0,496.51 694.0,496.60 695.0,496.69 696.0,496.77 697.0,496.85 698.0,496.92 699.0,496.99 700.0,497.06 701.0,497.13 702.0,497.19 703.0,497.25 704.0,497.31 705.0,497.36 706.0,497.42 707.0,497.47 708.0,497.51 709.0,497.56 710.0,497.60 711.0,497.64 712.0,497.67 713.0,497.71 714.0,497.74 715.0,497.77 716.0,497.80 717.0,497.82 718.0,497.85 719.0,497.87 720.0,497.89 721.0,497.91 722.0,497.92 723.0,497.94 724.0,497.95 725.0,497.96 726.0,497.97 727.0,497.98 728.0,497.98 729.0,497.99 730.0,497.99 731.0,497.99 732.0,497.99 733.0,497.99 734.0,497.99 735.0,497.99 736.0,497.98 737.0,497.98 738.0,497.97 739.0,497.96 740.0,497.95 741.0,497.94 742.0,497.93 743.0,497.92 744.0,497.91 745.0,497.90 746.0,497.89 747.0,497.88 748.0,497.86 749.0,497.85 750.0,497.84 751.0,497.82 752.0,497.81 753.0,497.79 754.0,497.78 755.0,497.76 756.0,497.75 757.0,497.73 758.0,497.72 759.0,497.71 760.0,497.69 761.0,497.68 762.0,497.66 763.0,497.65 764.0,497.64 765.0,497.63 766.0,497.61 767.0,497.60 768.0,497.59 769.0,497.58 770.0,497.57 771.0,497.57 772.0,497.56 773.0,497.55 774.0,497.55 775.0,497.54 776.0,497.54 777.0,497.54 778.0,497.53 779.0,497.53 780.0,497.54 781.0,497.54 782.0,497.54 783.0,497.55 784.0,497.56 785.0,497.57 786.0,497.58 787.0,497.59 788.0,497.60 789.0,497.62 790.0,498.20 791.0,498.20 792.0,498.20 793.0,498.20 794.0,498.20 795.0,498.20 796.0,498.20 797.0,498.20 798.0,498.20 799.0,498.20 800.0,498.20 801.0,498.20 802.0,498.20 803.0,498.20 804.0,498.20 805.0,498.20 806.0,498.20 807.0,498.20 808.0,498.20 809.0,498.20 810.0,498.20 811.0,498.20 812.0,498.20 813.0,498.20 814.0,498.20 815.0,498.20 816.0,498.20 817.0,498.20 818.0,498.20 819.0,498.20 820.0,498.20 821.0,498.20 822.0,498.20 823.0,498.20 824.0,498.20 825.0,498.20 826.0,498.20 827.0,498.20 828.0,498.20 829.0,498.20 830.0,498.20 831.0,498.20 832.0,498.20 833.0,498.20 834.0,498.20 835.0,498.20 836.0,498.20 837.0,498.20 838.0,498.20 839.0,498.20 840.0,498.20 841.0,498.20 842.0,498.20 843.0,498.20 844.0,498.20 845.0,498.20 846.0,498.20 847.0,498.20 848.0,498.20 849.0,498.20 850.0,498.20 851.0,498.20 852.0,498.20 853.0,498.20 854.0,498.20 855.0,498.20 856.0,498.20 857.0,498.20 858.0,498.20 859.0,498.20 860.0,498.20 861.0,498.20 862.0,498.20 863.0,498.20 864.0,498.20 865.0,498.20 866.0,498.20 867.0,498.20 868.0,498.20 869.0,498.20 870.0,498.20 871.0,498.20 872.0,498.20 873.0,498.20 874.0,498.20 875.0,498.20 876.0,498.20 877.0,498.20 878.0,498.20 879.0,498.20 880.0,498.20 881.0,498.20 882.0,498.20 883.0,498.20 884.0,498.20 885.0,498.20 886.0,498.20 887.0,498.20 888.0,498.20 889.0,498.20 890.0,498.20 891.0,498.20 892.0,498.20 893.0,498.20 894.0,498.20 895.0,498.20 896.0,498.20 897.0,498.20 898.0,498.20 899.0,498.20 900.0,498.20 901.0,498.20 902.0,498.20 903.0,498.20 904.0,498.20 905.0,498.20 906.0,498.20 907.0,498.20 908.0,498.20 909.0,498.20 910.0,498.20 911.0,498.20 912.0,498.20 913.0,498.20 914.0,498.20 915.0,498.20 916.0,498.20 917.0,498.20 918.0,498.20 919.0,498.20 920.0,498.20 921.0,498.20 922.0,498.20 923.0,498.20 924.0,498.20 925.0,498.20 926.0,498.20 927.0,498.20 928.0,498.20 929.0,498.20 930.0,498.20 931.0,498.20 932.0,498.20 933.0,498.20 934.0,498.20 935.0,498.20 936.0,498.20 937.0,498.20 938.0,498.20 939.0,498.20 940.0,498.20 941.0,498.20 942.0,498.20 943.0,498.20 944.0,498.20 945.0,498.20 946.0,498.20 947.0,498.20 948.0,498.20 949.0,498.20 950.0,498.20 951.0,498.20 952.0,498.20 953.0,498.20 954.0,498.20 955.0,498.20 956.0,498.20 957.0,498.20 958.0,498.20 959.0,497.41 960.0,497.21 961.0,497.00 962.0,496.79 963.0,496.57 964.0,496.35 965.0,496.12 966.0,495.89 967.0,495.66 968.0,495.42 969.0,495.17 970.0,494.92 971.0,494.66 972.0,494.40 973.0,494.14 974.0,493.87 975.0,493.59 976.0,493.31 977.0,493.03 978.0,492.74 979.0,492.44 980.0,492.14 981.0,491.83 982.0,491.52 983.0,491.20 984.0,490.88 985.0,490.56 986.0,490.23 987.0,489.89 988.0,489.56 989.0,489.21 990.0,488.87 991.0,488.51 992.0,488.16 993.0,487.80 994.0,487.44 995.0,487.07 996.0,486.70 997.0,486.32 998.0,485.94 999.0,485.56 1000.0,485.18 1001.0,484.79 1002.0,484.40 1003.0,484.00 1004.0,483.60 1005.0,483.20 1006.0,482.80 1007.0,482.39 1008.0,481.98 1009.0,481.57 1010.0,481.15 1011.0,480.74 1012.0,480.32 1013.0,479.89 1014.0,479.47 1015.0,479.04 1016.0,478.61 1017.0,478.18 1018.0,477.75 1019.0,477.31 1020.0,476.87 1021.0,476.42 1022.0,475.96 1023.0,475.48 1024.0,474.98 1025.0,474.46 1026.0,473.92 1027.0,473.35 1028.0,472.75 1029.0,472.12 1030.0,471.45 1031.0,470.74 1032.0,469.99 1033.0,469.19 1034.0,468.34 1035.0,467.45 1036.0,466.49 1037.0,465.48 1038.0,464.42 1039.0,463.30 1040.0,462.12 1041.0,460.90 1042.0,459.62 1043.0,458.28 1044.0,456.90 1045.0,455.46 1046.0,453.98 1047.0,452.45 1048.0,450.90 1049.0,449.31 1050.0,447.70 1051.0,446.07 1052.0,444.43 1053.0,442.79 1054.0,441.14 1055.0,439.51 1056.0,437.88 1057.0,436.27 1058.0,434.69 1059.0,433.14 1060.0,431.62 1061.0,430.15 1062.0,428.72 1063.0,427.34 1064.0,426.02 1065.0,424.75 1066.0,423.54 1067.0,422.39 1068.0,421.30 1069.0,420.27 1070.0,419.30 1071.0,418.39 1072.0,417.54 1073.0,416.76 1074.0,416.05 1075.0,415.41 1076.0,414.84 1077.0,414.33 1078.0,413.90 1079.0,413.54 1080.0,413.26 1081.0,413.05 1082.0,412.92 1083.0,412.86 1084.0,412.87 1085.0,412.95 1086.0,413.10 1087.0,413.32 1088.0,413.61 1089.0,413.96 1090.0,414.38 1091.0,414.85 1092.0,415.38 1093.0,415.97 1094.0,416.61 1095.0,417.31 1096.0,418.05 1097.0,418.84 1098.0,419.67 1099.0,420.55 1100.0,421.46 1101.0,422.42 1102.0,423.40 1103.0,424.40 1104.0,425.41 1105.0,426.41 1106.0,427.41 1107.0,428.39 1108.0,429.33 1109.0,430.24 1110.0,431.09 1111.0,431.89 1112.0,432.61 1113.0,433.26 1114.0,433.81 1115.0,434.27 1116.0,434.62 1117.0,434.85 1118.0,434.95 1119.0,434.91 1120.0,434.73 1121.0,434.39 1122.0,433.91 1123.0,433.26 1124.0,432.46 1125.0,431.50 1126.0,430.37 1127.0,429.08 1128.0,427.61 1129.0,425.98 1130.0,424.16 1131.0,422.17 1132.0,420.00 1133.0,417.65 1134.0,415.14 1135.0,412.49 1136.0,409.69 1137.0,406.77 1138.0,403.74 1139.0,400.60 1140.0,397.37 1141.0,394.06 1142.0,390.67 1143.0,387.23 1144.0,383.73 1145.0,380.19 1146.0,376.61 1147.0,373.00 1148.0,369.38 1149.0,365.75 1150.0,362.13 1151.0,358.51 1152.0,354.91 1153.0,351.33 1154.0,347.80 1155.0,344.30 1156.0,340.87 1157.0,337.49 1158.0,334.19 1159.0,330.97 1160.0,327.84 1161.0,324.81 1162.0,321.89 1163.0,319.08 1164.0,316.40 1165.0,313.85 1166.0,311.45 1167.0,309.20 1168.0,307.10 1169.0,305.15 1170.0,303.35 1171.0,301.68 1172.0,300.15 1173.0,298.75 1174.0,297.48 1175.0,296.32 1176.0,295.29 1177.0,294.37 1178.0,293.56 1179.0,292.85 1180.0,292.24 1181.0,291.73 1182.0,291.31 1183.0,290.98 1184.0,290.73 1185.0,290.56 1186.0,290.47 1187.0,290.44 1188.0,290.48 1189.0,290.58 1190.0,290.74 1191.0,290.96 1192.0,291.24 1193.0,291.57 1194.0,291.96 1195.0,292.40 1196.0,292.90 1197.0,293.44 1198.0,294.04 1199.0,294.69 1200.0,295.39 1201.0,296.14 1202.0,296.93 1203.0,297.78 1204.0,298.67 1205.0,299.60 1206.0,300.58 1207.0,301.60 1208.0,302.67 1209.0,303.77 1210.0,304.92 1211.0,306.11 1212.0,307.33 1213.0,308.60 1214.0,309.91 1215.0,311.25 1216.0,312.64 1217.0,314.07 1218.0,315.54 1219.0,317.06 1220.0,318.61 1221.0,320.22 1222.0,321.87 1223.0,323.58 1224.0,325.34 1225.0,327.18 1226.0,329.08 1227.0,331.06 1228.0,333.12 1229.0,335.27 1230.0,337.50 1231.0,339.83 1232.0,342.24 1233.0,344.72 1234.0,347.28 1235.0,349.91 1236.0,352.60 1237.0,355.34 1238.0,358.13 1239.0,360.97 1240.0,363.84 1241.0,366.75 1242.0,369.68 1243.0,372.63 1244.0,375.60 1245.0,378.58 1246.0,381.56 1247.0,384.54 1248.0,387.51 1249.0,390.47 1250.0,393.40 1251.0,396.32 1252.0,399.20 1253.0,402.04 1254.0,404.84 1255.0,407.60 1256.0,410.30 1257.0,412.94 1258.0,415.51 1259.0,418.02 1260.0,420.45 1261.0,422.80 1262.0,425.08 1263.0,427.28 1264.0,429.40 1265.0,431.45 1266.0,433.41 1267.0,435.30 1268.0,437.10 1269.0,438.82 1270.0,440.46 1271.0,442.01 1272.0,443.48 1273.0,444.86 1274.0,446.16 1275.0,447.37 1276.0,448.48 1277.0,449.52 1278.0,450.45 1279.0,451.30 1280.0,452.07 1281.0,452.75 1282.0,453.34 1283.0,453.87 1284.0,454.32 1285.0,454.70 1286.0,455.01 1287.0,455.27 1288.0,455.46 1289.0,455.61 1290.0,455.70 1291.0,455.74 1292.0,455.75 1293.0,455.71 1294.0,455.64 1295.0,455.54 1296.0,455.41 1297.0,455.25 1298.0,455.08 1299.0,454.88 1300.0,454.68 1301.0,454.46 1302.0,454.24 1303.0,454.02 1304.0,453.79 1305.0,453.57 1306.0,453.34 1307.0,453.12 1308.0,452.91 1309.0,452.70 1310.0,452.49 1311.0,452.30 1312.0,452.12 1313.0,451.95 1314.0,451.79 1315.0,451.65 1316.0,451.53 1317.0,451.43 1318.0,451.35 1319.0,451.29 1320.0,451.25 1321.0,451.24 1322.0,451.26 1323.0,451.30 1324.0,451.38 1325.0,451.49 1326.0,451.63 1327.0,451.80 1328.0,452.02 1329.0,452.27 1330.0,452.56 1331.0,452.89 1332.0,453.27" stroke="#33ff33" stroke-width="7" fill="none" stroke-linejoin="round"/>
<path d="M188.0,496.06 189.0,496.77 190.0,497.47 191.0,498.15 192.0,498.82 193.0,499.48 194.0,500.13 195.0,500.77 196.0,501.39 197.0,502.01 198.0,502.61 199.0,503.21 200.0,503.79 201.0,504.37 202.0,504.94 203.0,505.50 204.0,506.04 205.0,506.59 206.0,507.12 207.0,507.64 208.0,508.16 209.0,508.67 210.0,509.18 211.0,509.67 212.0,510.16 213.0,510.65 214.0,511.12 215.0,511.60 216.0,512.06 217.0,512.53 218.0,512.98 219.0,513.44 220.0,513.88 221.0,514.33 222.0,514.77 223.0,515.21 224.0,515.64 225.0,516.07 226.0,516.50 227.0,516.93 228.0,517.35 229.0,517.78 230.0,518.20 231.0,518.62 232.0,519.04 233.0,519.45 234.0,519.87 235.0,520.29 236.0,520.71 237.0,521.13 238.0,521.54 239.0,521.96 240.0,522.39 241.0,522.81 242.0,523.23 243.0,523.66 244.0,524.09 245.0,524.52 246.0,524.95 247.0,525.39 248.0,525.83 249.0,526.27 250.0,526.71 251.0,527.16 252.0,527.61 253.0,528.07 254.0,528.53 255.0,528.99 256.0,529.46 257.0,529.93 258.0,530.41 259.0,530.90 260.0,531.38 261.0,531.88 262.0,532.38 263.0,532.88 264.0,533.39 265.0,533.91 266.0,534.44 267.0,534.97 268.0,535.50 269.0,536.05 270.0,536.60 271.0,537.16 272.0,537.73 273.0,538.30 274.0,538.88 275.0,539.47 276.0,540.07 277.0,540.67 278.0,541.28 279.0,541.88 280.0,542.48 281.0,543.07 282.0,543.66 283.0,544.23 284.0,544.78 285.0,545.31 286.0,545.82 287.0,546.31 288.0,546.76 289.0,547.19 290.0,547.58 291.0,547.93 292.0,548.24 293.0,548.51 294.0,548.72 295.0,548.89 296.0,549.01 297.0,549.07 298.0,549.07 299.0,549.01 300.0,548.89 301.0,548.72 302.0,548.49 303.0,548.22 304.0,547.89 305.0,547.52 306.0,547.11 307.0,546.66 308.0,546.18 309.0,545.66 310.0,545.11 311.0,544.53 312.0,543.93 313.0,543.31 314.0,542.67 315.0,542.01 316.0,541.33 317.0,540.65 318.0,539.95 319.0,539.25 320.0,538.55 321.0,537.85 322.0,537.15 323.0,536.46 324.0,535.78 325.0,535.10 326.0,534.44 327.0,533.80 328.0,533.18 329.0,532.58 330.0,532.00 331.0,531.46 332.0,530.94 333.0,530.46 334.0,530.01 335.0,529.59 336.0,529.20 337.0,528.85 338.0,528.52 339.0,528.23 340.0,527.96 341.0,527.71 342.0,527.49 343.0,527.30 344.0,527.13 345.0,526.98 346.0,526.85 347.0,526.74 348.0,526.65 349.0,526.58 350.0,526.52 351.0,526.48 352.0,526.46 353.0,526.44 354.0,526.44 355.0,526.46 356.0,526.48 357.0,526.51 358.0,526.55 359.0,526.60 360.0,526.65 361.0,526.71 362.0,526.77 363.0,526.84 364.0,526.91 365.0,526.98 366.0,527.05 367.0,527.11 368.0,527.18 369.0,527.25 370.0,527.31 371.0,527.37 372.0,527.43 373.0,527.49 374.0,527.55 375.0,527.60 376.0,527.65 377.0,527.69 378.0,527.73 379.0,527.76 380.0,527.79 381.0,527.82 382.0,527.84 383.0,527.85 384.0,527.86 385.0,527.85 386.0,527.85 387.0,527.83 388.0,527.81 389.0,527.78 390.0,527.74 391.0,527.69 392.0,527.63 393.0,527.56 394.0,527.49 395.0,527.40 396.0,527.30 397.0,527.19 398.0,527.07 399.0,526.94 400.0,526.79 401.0,526.64 402.0,526.47 403.0,526.28 404.0,526.09 405.0,525.89 406.0,525.67 407.0,525.45 408.0,525.21 409.0,524.97 410.0,524.72 411.0,524.47 412.0,524.20 413.0,523.93 414.0,523.66 415.0,523.37 416.0,523.09 417.0,522.80 418.0,522.51 419.0,522.22 420.0,521.92 421.0,521.62 422.0,521.33 423.0,521.03 424.0,520.73 425.0,520.44 426.0,520.14 427.0,519.85 428.0,519.56 429.0,519.28 430.0,519.00 431.0,518.72 432.0,518.45 433.0,518.19 434.0,517.93 435.0,517.68 436.0,517.44 437.0,517.20 438.0,516.98 439.0,516.76 440.0,516.55 441.0,516.36 442.0,516.17 443.0,515.99 444.0,515.82 445.0,515.65 446.0,515.50 447.0,515.35 448.0,515.21 449.0,515.07 450.0,514.94 451.0,514.82 452.0,514.71 453.0,514.60 454.0,514.50 455.0,514.41 456.0,514.32 457.0,514.23 458.0,514.15 459.0,514.08 460.0,514.01 461.0,513.95 462.0,513.89 463.0,513.83 464.0,513.78 465.0,513.74 466.0,513.69 467.0,513.65 468.0,513.62 469.0,513.59 470.0,513.56 471.0,513.53 472.0,513.50 473.0,513.48 474.0,513.46 475.0,513.44 476.0,513.42 477.0,513.41 478.0,513.39 479.0,513.38 480.0,513.37 481.0,513.36 482.0,513.34 483.0,513.33 484.0,513.32 485.0,513.31 486.0,513.30 487.0,513.29 488.0,513.27 489.0,513.26 490.0,513.24 491.0,513.23 492.0,513.21 493.0,513.19 494.0,513.17 495.0,513.14 496.0,513.11 497.0,513.08 498.0,513.05 499.0,513.02 500.0,512.98 501.0,512.93 502.0,512.89 503.0,512.84 504.0,512.79 505.0,512.73 506.0,512.66 507.0,512.60 508.0,512.52 509.0,512.45 510.0,512.36 511.0,512.28 512.0,512.18 513.0,512.08 514.0,511.98 515.0,511.87 516.0,511.75 517.0,511.63 518.0,511.51 519.0,511.38 520.0,511.24 521.0,511.11 522.0,510.97 523.0,510.82 524.0,510.68 525.0,510.53 526.0,510.37 527.0,510.22 528.0,510.06 529.0,509.90 530.0,509.75 531.0,509.58 532.0,509.42 533.0,509.26 534.0,509.10 535.0,508.94 536.0,508.77 537.0,508.61 538.0,508.45 539.0,508.29 540.0,508.13 541.0,507.97 542.0,507.81 543.0,507.66 544.0,507.51 545.0,507.36 546.0,507.21 547.0,507.06 548.0,506.92 549.0,506.79 550.0,506.65 551.0,506.52 552.0,506.40 553.0,506.27 554.0,506.16 555.0,506.05 556.0,505.94 557.0,505.84 558.0,505.74 559.0,505.65 560.0,505.57 561.0,505.50 562.0,505.43 563.0,505.36 564.0,505.31 565.0,505.26 566.0,505.22 567.0,505.19 568.0,505.17 569.0,505.15 570.0,505.15 571.0,505.15 572.0,505.16 573.0,505.19 574.0,505.21 575.0,505.25 576.0,505.30 577.0,505.35 578.0,505.41 579.0,505.48 580.0,505.55 581.0,505.63 582.0,505.71 583.0,505.80 584.0,505.89 585.0,505.99 586.0,506.09 587.0,506.20 588.0,506.31 589.0,506.42 590.0,506.54 591.0,506.66 592.0,506.78 593.0,506.90 594.0,507.02 595.0,507.15 596.0,507.27 597.0,507.40 598.0,507.52 599.0,507.64 600.0,507.77 601.0,507.89 602.0,508.01 603.0,508.13 604.0,508.25 605.0,508.37 606.0,508.48 607.0,508.59 608.0,508.69 609.0,508.79 610.0,508.89 611.0,508.98 612.0,509.07 613.0,509.15 614.0,509.23 615.0,509.30 616.0,509.37 617.0,509.42 618.0,509.48 619.0,509.52 620.0,509.56 621.0,509.58 622.0,509.60 623.0,509.61 624.0,509.62 625.0,509.61 626.0,509.59 627.0,509.56 628.0,509.52 629.0,509.48 630.0,509.42 631.0,509.35 632.0,509.28 633.0,509.19 634.0,509.10 635.0,509.00 636.0,508.90 637.0,508.78 638.0,508.66 639.0,508.53 640.0,508.40 641.0,508.26 642.0,508.11 643.0,507.96 644.0,507.80 645.0,507.64 646.0,507.48 647.0,507.31 648.0,507.13 649.0,506.96 650.0,506.77 651.0,506.59 652.0,506.40 653.0,506.22 654.0,506.03 655.0,505.83 656.0,505.64 657.0,505.44 658.0,505.25 659.0,505.05 660.0,504.86 661.0,504.66 662.0,504.47 663.0,504.27 664.0,504.08 665.0,503.88 666.0,503.69 667.0,503.51 668.0,503.32 669.0,503.14 670.0,502.95 671.0,502.78 672.0,502.60 673.0,502.43 674.0,502.27 675.0,502.11 676.0,501.95 677.0,501.80 678.0,501.65 679.0,501.50 680.0,501.36 681.0,501.23 682.0,501.09 683.0,500.96 684.0,500.84 685.0,500.72 686.0,500.60 687.0,500.49 688.0,500.38 689.0,500.28 690.0,500.17 691.0,500.07 692.0,499.98 693.0,499.89 694.0,499.80 695.0,499.71 696.0,499.63 697.0,499.55 698.0,499.48 699.0,499.41 700.0,499.34 701.0,499.27 702.0,499.21 703.0,499.15 704.0,499.09 705.0,499.04 706.0,498.98 707.0,498.93 708.0,498.89 709.0,498.84 710.0,498.80 711.0,498.76 712.0,498.73 713.0,498.69 714.0,498.66 715.0,498.63 716.0,498.60 717.0,498.58 718.0,498.55 719.0,498.53 720.0,498.51 721.0,498.49 722.0,498.48 723.0,498.46 724.0,498.45 725.0,498.44 726.0,498.43 727.0,498.42 728.0,498.42 729.0,498.41 730.0,498.41 731.0,498.41 732.0,498.41 733.0,498.41 734.0,498.41 735.0,498.41 736.0,498.42 737.0,498.42 738.0,498.43 739.0,498.44 740.0,498.45 741.0,498.46 742.0,498.47 743.0,498.48 744.0,498.49 745.0,498.50 746.0,498.51 747.0,498.52 748.0,498.54 749.0,498.55 750.0,498.56 751.0,498.58 752.0,498.59 753.0,498.61 754.0,498.62 755.0,498.64 756.0,498.65 757.0,498.67 758.0,498.68 759.0,498.69 760.0,498.71 761.0,498.72 762.0,498.74 763.0,498.75 764.0,498.76 765.0,498.77 766.0,498.79 767.0,498.80 768.0,498.81 769.0,498.82 770.0,498.83 771.0,498.83 772.0,498.84 773.0,498.85 774.0,498.85 775.0,498.86 776.0,498.86 777.0,498.86 778.0,498.87 779.0,498.87 780.0,498.86 781.0,498.86 782.0,498.86 783.0,498.85 784.0,498.84 785.0,498.83 786.0,498.82 787.0,498.81 788.0,498.80 789.0,498.78 790.0,498.20 791.0,498.20 792.0,498.20 793.0,498.20 794.0,498.20 795.0,498.20 796.0,498.20 797.0,498.20 798.0,498.20 799.0,498.20 800.0,498.20 801.0,498.20 802.0,498.20 803.0,498.20 804.0,498.20 805.0,498.20 806.0,498.20 807.0,498.20 808.0,498.20 809.0,498.20 810.0,498.20 811.0,498.20 812.0,498.20 813.0,498.20 814.0,498.20 815.0,498.20 816.0,498.20 817.0,498.20 818.0,498.20 819.0,498.20 820.0,498.20 821.0,498.20 822.0,498.20 823.0,498.20 824.0,498.20 825.0,498.20 826.0,498.20 827.0,498.20 828.0,498.20 829.0,498.20 830.0,498.20 831.0,498.20 832.0,498.20 833.0,498.20 834.0,498.20 835.0,498.20 836.0,498.20 837.0,498.20 838.0,498.20 839.0,498.20 840.0,498.20 841.0,498.20 842.0,498.20 843.0,498.20 844.0,498.20 845.0,498.20 846.0,498.20 847.0,498.20 848.0,498.20 849.0,498.20 850.0,498.20 851.0,498.20 852.0,498.20 853.0,498.20 854.0,498.20 855.0,498.20 856.0,498.20 857.0,498.20 858.0,498.20 859.0,498.20 860.0,498.20 861.0,498.20 862.0,498.20 863.0,498.20 864.0,498.20 865.0,498.20 866.0,498.20 867.0,498.20 868.0,498.20 869.0,498.20 870.0,498.20 871.0,498.20 872.0,498.20 873.0,498.20 874.0,498.20 875.0,498.20 876.0,498.20 877.0,498.20 878.0,498.20 879.0,498.20 880.0,498.20 881.0,498.20 882.0,498.20 883.0,498.20 884.0,498.20 885.0,498.20 886.0,498.20 887.0,498.20 888.0,498.20 889.0,498.20 890.0,498.20 891.0,498.20 892.0,498.20 893.0,498.20 894.0,498.20 895.0,498.20 896.0,498.20 897.0,498.20 898.0,498.20 899.0,498.20 900.0,498.20 901.0,498.20 902.0,498.20 903.0,498.20 904.0,498.20 905.0,498.20 906.0,498.20 907.0,498.20 908.0,498.20 909.0,498.20 910.0,498.20 911.0,498.20 912.0,498.20 913.0,498.20 914.0,498.20 915.0,498.20 916.0,498.20 917.0,498.20 918.0,498.20 919.0,498.20 920.0,498.20 921.0,498.20 922.0,498.20 923.0,498.20 924.0,498.20 925.0,498.20 926.0,498.20 927.0,498.20 928.0,498.20 929.0,498.20 930.0,498.20 931.0,498.20 932.0,498.20 933.0,498.20 934.0,498.20 935.0,498.20 936.0,498.20 937.0,498.20 938.0,498.20 939.0,498.20 940.0,498.20 941.0,498.20 942.0,498.20 943.0,498.20 944.0,498.20 945.0,498.20 946.0,498.20 947.0,498.20 948.0,498.20 949.0,498.20 950.0,498.20 951.0,498.20 952.0,498.20 953.0,498.20 954.0,498.20 955.0,498.20 956.0,498.20 957.0,498.20 958.0,498.20 959.0,498.99 960.0,499.19 961.0,499.40 962.0,499.61 963.0,499.83 964.0,500.05 965.0,500.28 966.0,500.51 967.0,500.74 968.0,500.98 969.0,501.23 970.0,501.48 971.0,501.74 972.0,502.00 973.0,502.26 974.0,502.53 975.0,502.81 976.0,503.09 977.0,503.37 978.0,503.66 979.0,503.96 980.0,504.26 981.0,504.57 982.0,504.88 983.0,505.20 984.0,505.52 985.0,505.84 986.0,506.17 987.0,506.51 988.0,506.84 989.0,507.19 990.0,507.53 991.0,507.89 992.0,508.24 993.0,508.60 994.0,508.96 995.0,509.33 996.0,509.70 997.0,510.08 998.0,510.46 999.0,510.84 1000.0,511.22 1001.0,511.61 1002.0,512.00 1003.0,512.40 1004.0,512.80 1005.0,513.20 1006.0,513.60 1007.0,514.01 1008.0,514.42 1009.0,514.83 1010.0,515.25 1011.0,515.66 1012.0,516.08 1013.0,516.51 1014.0,516.93 1015.0,517.36 1016.0,517.79 1017.0,518.22 1018.0,518.65 1019.0,519.09 1020.0,519.53 1021.0,519.98 1022.0,520.44 1023.0,520.92 1024.0,521.42 1025.0,521.94 1026.0,522.48 1027.0,523.05 1028.0,523.65 1029.0,524.28 1030.0,524.95 1031.0,525.66 1032.0,526.41 1033.0,527.21 1034.0,528.06 1035.0,528.95 1036.0,529.91 1037.0,530.92 1038.0,531.98 1039.0,533.10 1040.0,534.28 1041.0,535.50 1042.0,536.78 1043.0,538.12 1044.0,539.50 1045.0,540.94 1046.0,542.42 1047.0,543.95 1048.0,545.50 1049.0,547.09 1050.0,548.70 1051.0,550.33 1052.0,551.97 1053.0,553.61 1054.0,555.26 1055.0,556.89 1056.0,558.52 1057.0,560.13 1058.0,561.71 1059.0,563.26 1060.0,564.78 1061.0,566.25 1062.0,567.68 1063.0,569.06 1064.0,570.38 1065.0,571.65 1066.0,572.86 1067.0,574.01 1068.0,575.10 1069.0,576.13 1070.0,577.10 1071.0,578.01 1072.0,578.86 1073.0,579.64 1074.0,580.35 1075.0,580.99 1076.0,581.56 1077.0,582.07 1078.0,582.50 1079.0,582.86 1080.0,583.14 1081.0,583.35 1082.0,583.48 1083.0,583.54 1084.0,583.53 1085.0,583.45 1086.0,583.30 1087.0,583.08 1088.0,582.79 1089.0,582.44 1090.0,582.02 1091.0,581.55 1092.0,581.02 1093.0,580.43 1094.0,579.79 1095.0,579.09 1096.0,578.35 1097.0,577.56 1098.0,576.73 1099.0,575.85 1100.0,574.94 1101.0,573.98 1102.0,573.00 1103.0,572.00 1104.0,570.99 1105.0,569.99 1106.0,568.99 1107.0,568.01 1108.0,567.07 1109.0,566.16 1110.0,565.31 1111.0,564.51 1112.0,563.79 1113.0,563.14 1114.0,562.59 1115.0,562.13 1116.0,561.78 1117.0,561.55 1118.0,561.45 1119.0,561.49 1120.0,561.67 1121.0,562.01 1122.0,562.49 1123.0,563.14 1124.0,563.94 1125.0,564.90 1126.0,566.03 1127.0,567.32 1128.0,568.79 1129.0,570.42 1130.0,572.24 1131.0,574.23 1132.0,576.40 1133.0,578.75 1134.0,581.26 1135.0,583.91 1136.0,586.71 1137.0,589.63 1138.0,592.66 1139.0,595.80 1140.0,599.03 1141.0,602.34 1142.0,605.73 1143.0,609.17 1144.0,612.67 1145.0,616.21 1146.0,619.79 1147.0,623.40 1148.0,627.02 1149.0,630.65 1150.0,634.27 1151.0,637.89 1152.0,641.49 1153.0,645.07 1154.0,648.60 1155.0,652.10 1156.0,655.53 1157.0,658.91 1158.0,662.21 1159.0,665.43 1160.0,668.56 1161.0,671.59 1162.0,674.51 1163.0,677.32 1164.0,680.00 1165.0,682.55 1166.0,684.95 1167.0,687.20 1168.0,689.30 1169.0,691.25 1170.0,693.05 1171.0,694.72 1172.0,696.25 1173.0,697.65 1174.0,698.92 1175.0,700.08 1176.0,701.11 1177.0,702.03 1178.0,702.84 1179.0,703.55 1180.0,704.16 1181.0,704.67 1182.0,705.09 1183.0,705.42 1184.0,705.67 1185.0,705.84 1186.0,705.93 1187.0,705.96 1188.0,705.92 1189.0,705.82 1190.0,705.66 1191.0,705.44 1192.0,705.16 1193.0,704.83 1194.0,704.44 1195.0,704.00 1196.0,703.50 1197.0,702.96 1198.0,702.36 1199.0,701.71 1200.0,701.01 1201.0,700.26 1202.0,699.47 1203.0,698.62 1204.0,697.73 1205.0,696.80 1206.0,695.82 1207.0,694.80 1208.0,693.73 1209.0,692.63 1210.0,691.48 1211.0,690.29 1212.0,689.07 1213.0,687.80 1214.0,686.49 1215.0,685.15 1216.0,683.76 1217.0,682.33 1218.0,680.86 1219.0,679.34 1220.0,677.79 1221.0,676.18 1222.0,674.53 1223.0,672.82 1224.0,671.06 1225.0,669.22 1226.0,667.32 1227.0,665.34 1228.0,663.28 1229.0,661.13 1230.0,658.90 1231.0,656.57 1232.0,654.16 1233.0,651.68 1234.0,649.12 1235.0,646.49 1236.0,643.80 1237.0,641.06 1238.0,638.27 1239.0,635.43 1240.0,632.56 1241.0,629.65 1242.0,626.72 1243.0,623.77 1244.0,620.80 1245.0,617.82 1246.0,614.84 1247.0,611.86 1248.0,608.89 1249.0,605.93 1250.0,603.00 1251.0,600.08 1252.0,597.20 1253.0,594.36 1254.0,591.56 1255.0,588.80 1256.0,586.10 1257.0,583.46 1258.0,580.89 1259.0,578.38 1260.0,575.95 1261.0,573.60 1262.0,571.32 1263.0,569.12 1264.0,567.00 1265.0,564.95 1266.0,562.99 1267.0,561.10 1268.0,559.30 1269.0,557.58 1270.0,555.94 1271.0,554.39 1272.0,552.92 1273.0,551.54 1274.0,550.24 1275.0,549.03 1276.0,547.92 1277.0,546.88 1278.0,545.95 1279.0,545.10 1280.0,544.33 1281.0,543.65 1282.0,543.06 1283.0,542.53 1284.0,542.08 1285.0,541.70 1286.0,541.39 1287.0,541.13 1288.0,540.94 1289.0,540.79 1290.0,540.70 1291.0,540.66 1292.0,540.65 1293.0,540.69 1294.0,540.76 1295.0,540.86 1296.0,540.99 1297.0,541.15 1298.0,541.32 1299.0,541.52 1300.0,541.72 1301.0,541.94 1302.0,542.16 1303.0,542.38 1304.0,542.61 1305.0,542.83 1306.0,543.06 1307.0,543.28 1308.0,543.49 1309.0,543.70 1310.0,543.91 1311.0,544.10 1312.0,544.28 1313.0,544.45 1314.0,544.61 1315.0,544.75 1316.0,544.87 1317.0,544.97 1318.0,545.05 1319.0,545.11 1320.0,545.15 1321.0,545.16 1322.0,545.14 1323.0,545.10 1324.0,545.02 1325.0,544.91 1326.0,544.77 1327.0,544.60 1328.0,544.38 1329.0,544.13 1330.0,543.84 1331.0,543.51 1332.0,543.13" stroke="#33ff33" stroke-width="7" fill="none" stroke-linejoin="round"/>
<path d="M188.0,494.06 189.0,492.27 190.0,490.41 191.0,488.49 192.0,486.53 193.0,484.52 194.0,482.50 195.0,480.46 196.0,478.42 197.0,476.39 198.0,474.38 199.0,472.41 200.0,470.49 201.0,468.62 202.0,466.83 203.0,465.09 204.0,463.35 205.0,461.57 206.0,459.70 207.0,457.70 208.0,455.58 209.0,453.37 210.0,451.11 211.0,448.80 212.0,446.48 213.0,444.15 214.0,441.81 215.0,439.47 216.0,437.14 217.0,434.80 218.0,432.46 219.0,430.13 220.0,427.80 221.0,425.48 222.0,423.16 223.0,420.86 224.0,418.57 225.0,416.30 226.0,414.03 227.0,411.79 228.0,409.56 229.0,407.36 230.0,405.17 231.0,403.01 232.0,400.88 233.0,398.77 234.0,396.69 235.0,394.65 236.0,392.63 237.0,390.65 238.0,388.70 239.0,386.78 240.0,384.89 241.0,383.01 242.0,381.16 243.0,379.31 244.0,377.47 245.0,375.63 246.0,373.78 247.0,371.92 248.0,370.06 249.0,368.17 250.0,366.26 251.0,364.32 252.0,362.34 253.0,360.33 254.0,358.28 255.0,356.17 256.0,354.02 257.0,351.80 258.0,349.53 259.0,347.18 260.0,344.77 261.0,342.27 262.0,339.70 263.0,337.07 264.0,334.39 265.0,331.65 266.0,328.88 267.0,326.08 268.0,323.25 269.0,320.41 270.0,317.57 271.0,314.73 272.0,311.90 273.0,309.10 274.0,306.32 275.0,303.58 276.0,300.89 277.0,298.25 278.0,295.68 279.0,293.17 280.0,290.75 281.0,288.42 282.0,286.18 283.0,284.05 284.0,282.04 285.0,280.14 286.0,278.37 287.0,276.73 288.0,275.24 289.0,273.89 290.0,272.70 291.0,271.68 292.0,270.82 293.0,270.15 294.0,269.66 295.0,269.37 296.0,269.28 297.0,269.39 298.0,269.72 299.0,270.25 300.0,270.96 301.0,271.85 302.0,272.91 303.0,274.11 304.0,275.46 305.0,276.94 306.0,278.53 307.0,280.23 308.0,282.02 309.0,283.88 310.0,285.82 311.0,287.82 312.0,289.86 313.0,291.93 314.0,294.02 315.0,296.12 316.0,298.22 317.0,300.30 318.0,302.36 319.0,304.37 320.0,306.34 321.0,308.24 322.0,310.06 323.0,311.80 324.0,313.45 325.0,314.99 326.0,316.44 327.0,317.77 328.0,319.00 329.0,320.11 330.0,321.10 331.0,321.97 332.0,322.71 333.0,323.32 334.0,323.80 335.0,324.13 336.0,324.33 337.0,324.38 338.0,324.28 339.0,324.03 340.0,323.65 341.0,323.13 342.0,322.48 343.0,321.71 344.0,320.81 345.0,319.80 346.0,318.67 347.0,317.44 348.0,316.10 349.0,314.66 350.0,313.13 351.0,311.51 352.0,309.80 353.0,308.02 354.0,306.15 355.0,304.23 356.0,302.24 357.0,300.20 358.0,298.13 359.0,296.02 360.0,293.89 361.0,291.74 362.0,289.58 363.0,287.42 364.0,285.28 365.0,283.14 366.0,281.04 367.0,278.97 368.0,276.94 369.0,274.96 370.0,273.03 371.0,271.15 372.0,269.32 373.0,267.54 374.0,265.83 375.0,264.16 376.0,262.56 377.0,261.02 378.0,259.55 379.0,258.13 380.0,256.79 381.0,255.51 382.0,254.30 383.0,253.16 384.0,252.10 385.0,251.11 386.0,250.19 387.0,249.35 388.0,248.58 389.0,247.89 390.0,247.27 391.0,246.73 392.0,246.27 393.0,245.89 394.0,245.59 395.0,245.36 396.0,245.22 397.0,245.15 398.0,245.17 399.0,245.27 400.0,245.45 401.0,245.71 402.0,246.06 403.0,246.49 404.0,247.01 405.0,247.61 406.0,248.30 407.0,249.08 408.0,249.94 409.0,250.89 410.0,251.93 411.0,253.06 412.0,254.28 413.0,255.58 414.0,256.98 415.0,258.47 416.0,260.05 417.0,261.71 418.0,263.45 419.0,265.26 420.0,267.15 421.0,269.10 422.0,271.11 423.0,273.18 424.0,275.31 425.0,277.48 426.0,279.70 427.0,281.96 428.0,284.25 429.0,286.58 430.0,288.94 431.0,291.32 432.0,293.72 433.0,296.14 434.0,298.56 435.0,301.00 436.0,303.44 437.0,305.87 438.0,308.30 439.0,310.72 440.0,313.13 441.0,315.52 442.0,317.89 443.0,320.23 444.0,322.56 445.0,324.85 446.0,327.12 447.0,329.35 448.0,331.55 449.0,333.72 450.0,335.85 451.0,337.94 452.0,339.99 453.0,341.99 454.0,343.95 455.0,345.86 456.0,347.73 457.0,349.54 458.0,351.29 459.0,352.99 460.0,354.63 461.0,356.21 462.0,357.73 463.0,359.18 464.0,360.56 465.0,361.88 466.0,363.12 467.0,364.30 468.0,365.39 469.0,366.41 470.0,367.35 471.0,368.21 472.0,368.98 473.0,369.68 474.0,370.30 475.0,370.84 476.0,371.30 477.0,371.69 478.0,372.00 479.0,372.24 480.0,372.40 481.0,372.50 482.0,372.52 483.0,372.47 484.0,372.35 485.0,372.16 486.0,371.90 487.0,371.58 488.0,371.19 489.0,370.74 490.0,370.22 491.0,369.64 492.0,369.00 493.0,368.30 494.0,367.54 495.0,366.71 496.0,365.83 497.0,364.89 498.0,363.90 499.0,362.85 500.0,361.75 501.0,360.59 502.0,359.39 503.0,358.15 504.0,356.87 505.0,355.57 506.0,354.26 507.0,352.93 508.0,351.60 509.0,350.27 510.0,348.96 511.0,347.66 512.0,346.38 513.0,345.14 514.0,343.94 515.0,342.79 516.0,341.69 517.0,340.65 518.0,339.67 519.0,338.76 520.0,337.93 521.0,337.17 522.0,336.50 523.0,335.92 524.0,335.44 525.0,335.05 526.0,334.77 527.0,334.60 528.0,334.55 529.0,334.61 530.0,334.79 531.0,335.09 532.0,335.50 533.0,336.01 534.0,336.62 535.0,337.33 536.0,338.13 537.0,339.02 538.0,339.99 539.0,341.03 540.0,342.15 541.0,343.33 542.0,344.57 543.0,345.88 544.0,347.23 545.0,348.63 546.0,350.08 547.0,351.57 548.0,353.09 549.0,354.63 550.0,356.21 551.0,357.80 552.0,359.41 553.0,361.02 554.0,362.64 555.0,364.27 556.0,365.89 557.0,367.50 558.0,369.09 559.0,370.67 560.0,372.22 561.0,373.73 562.0,375.18 563.0,376.57 564.0,377.87 565.0,379.09 566.0,380.19 567.0,381.18 568.0,382.03 569.0,382.73 570.0,383.28 571.0,383.65 572.0,383.83 573.0,383.81 574.0,383.58 575.0,383.13 576.0,382.43 577.0,381.48 578.0,380.27 579.0,378.77 580.0,376.98 581.0,374.88 582.0,372.47 583.0,369.73 584.0,366.70 585.0,363.40 586.0,359.88 587.0,356.15 588.0,352.26 589.0,348.24 590.0,344.12 591.0,339.93 592.0,335.71 593.0,331.48 594.0,327.26 595.0,323.05 596.0,318.87 597.0,314.73 598.0,310.62 599.0,306.57 600.0,302.57 601.0,298.63 602.0,294.77 603.0,290.98 604.0,287.24 605.0,283.49 606.0,279.69 607.0,275.81 608.0,271.78 609.0,267.58 610.0,263.17 611.0,258.60 612.0,253.95 613.0,249.30 614.0,244.72 615.0,240.31 616.0,236.13 617.0,232.27 618.0,228.72 619.0,225.51 620.0,222.60 621.0,220.01 622.0,217.72 623.0,215.73 624.0,214.03 625.0,212.61 626.0,211.45 627.0,210.54 628.0,209.87 629.0,209.41 630.0,209.17 631.0,209.12 632.0,209.25 633.0,209.56 634.0,210.05 635.0,210.72 636.0,211.56 637.0,212.57 638.0,213.75 639.0,215.09 640.0,216.60 641.0,218.27 642.0,220.10 643.0,222.09 644.0,224.23 645.0,226.52 646.0,228.96 647.0,231.54 648.0,234.27 649.0,237.14 650.0,240.15 651.0,243.29 652.0,246.57 653.0,249.98 654.0,253.52 655.0,257.18 656.0,260.97 657.0,264.88 658.0,268.91 659.0,273.05 660.0,277.31 661.0,281.68 662.0,286.14 663.0,290.68 664.0,295.27 665.0,299.88 666.0,304.49 667.0,309.07 668.0,313.60 669.0,318.05 670.0,322.39 671.0,326.60 672.0,330.65 673.0,334.52 674.0,338.18 675.0,341.61 676.0,344.80 677.0,347.74 678.0,350.46 679.0,352.96 680.0,355.25 681.0,357.34 682.0,359.25 683.0,360.97 684.0,362.53 685.0,363.93 686.0,365.18 687.0,366.29 688.0,367.27 689.0,368.14 690.0,368.89 691.0,369.55 692.0,370.12 693.0,370.60 694.0,371.01 695.0,371.36 696.0,371.65 697.0,371.89 698.0,372.08 699.0,372.25 700.0,372.38 701.0,372.51 702.0,372.62 703.0,372.73 704.0,372.85 705.0,372.99 706.0,373.15 707.0,373.34 708.0,373.58 709.0,373.86 710.0,374.19 711.0,374.59 712.0,375.06 713.0,375.58 714.0,376.17 715.0,376.82 716.0,377.55 717.0,378.34 718.0,379.19 719.0,380.12 720.0,381.12 721.0,382.19 722.0,383.34 723.0,384.56 724.0,385.86 725.0,387.23 726.0,388.68 727.0,390.20 728.0,391.81 729.0,393.47 730.0,395.21 731.0,397.00 732.0,398.84 733.0,400.73 734.0,402.66 735.0,404.63 736.0,406.63 737.0,408.65 738.0,410.70 739.0,412.76 740.0,414.83 741.0,416.91 742.0,418.99 743.0,421.06 744.0,423.12 745.0,425.17 746.0,427.20 747.0,429.24 748.0,431.28 749.0,433.34 750.0,435.41 751.0,437.51 752.0,439.65 753.0,441.82 754.0,444.04 755.0,446.30 756.0,448.56 757.0,450.83 758.0,453.08 759.0,455.30 760.0,457.47 761.0,459.57 762.0,461.58 763.0,463.52 764.0,465.38 765.0,467.16 766.0,468.87 767.0,470.50 768.0,472.06 769.0,473.55 770.0,474.97 771.0,476.32 772.0,477.61 773.0,478.84 774.0,480.00 775.0,481.11 776.0,482.16 777.0,483.16 778.0,484.10 779.0,484.99 780.0,485.83 781.0,486.62 782.0,487.36 783.0,488.07 784.0,488.72 785.0,489.34 786.0,489.92 787.0,490.47 788.0,490.98 789.0,491.45 790.0,491.90 791.0,492.31 792.0,492.70 793.0,493.06 794.0,493.40 795.0,493.72 796.0,494.01 797.0,494.29 798.0,494.55 799.0,494.79 800.0,495.02 801.0,495.23 802.0,495.43 803.0,495.61 804.0,495.78 805.0,495.93 806.0,496.07 807.0,496.21 808.0,496.33 809.0,496.44 810.0,496.55 811.0,496.64 812.0,496.73 813.0,496.81 814.0,496.89 815.0,496.96 816.0,497.03 817.0,497.10 818.0,497.16 819.0,497.22 820.0,497.29 821.0,497.35 822.0,497.41 823.0,497.47 824.0,497.54 825.0,497.60 826.0,497.67 827.0,497.74 828.0,497.81 829.0,497.88 830.0,498.20 831.0,498.20 832.0,498.20 833.0,498.20 834.0,498.20 835.0,498.20 836.0,498.20 837.0,498.20 838.0,498.20 839.0,498.20 840.0,498.20 841.0,498.20 842.0,498.20 843.0,498.20 844.0,498.20 845.0,498.20 846.0,498.20 847.0,498.20 848.0,498.20 849.0,498.20 850.0,498.20 851.0,498.20 852.0,498.20 853.0,498.20 854.0,498.20 855.0,498.20 856.0,498.20 857.0,498.20 858.0,498.20 859.0,498.20 860.0,498.20 861.0,498.20 862.0,498.20 863.0,498.20 864.0,498.20 865.0,498.20 866.0,498.20 867.0,498.20 868.0,498.20 869.0,498.20 870.0,498.20 871.0,498.20 872.0,498.20 873.0,498.20 874.0,498.20 875.0,498.20 876.0,498.20 877.0,498.20 878.0,498.20 879.0,498.20 880.0,498.20 881.0,498.20 882.0,498.20 883.0,498.20 884.0,498.20 885.0,498.20 886.0,498.20 887.0,498.20 888.0,498.20 889.0,498.20 890.0,498.20 891.0,498.20 892.0,498.20 893.0,498.20 894.0,498.20 895.0,498.20 896.0,498.20 897.0,498.20 898.0,498.20 899.0,498.20 900.0,498.20 901.0,498.20 902.0,498.20 903.0,498.20 904.0,498.20 905.0,498.20 906.0,498.20 907.0,498.20 908.0,498.20 909.0,498.20 910.0,498.20 911.0,498.20 912.0,498.20 913.0,498.20 914.0,498.20 915.0,498.20 916.0,498.20 917.0,498.20 918.0,498.20 919.0,498.20 920.0,498.20 921.0,498.20 922.0,498.20 923.0,498.20 924.0,498.20 925.0,498.20 926.0,498.20 927.0,498.20 928.0,498.20 929.0,498.20 930.0,498.20 931.0,498.20 932.0,498.20 933.0,498.20 934.0,498.20 935.0,498.20 936.0,498.20 937.0,498.20 938.0,498.20 939.0,498.20 940.0,498.20 941.0,498.20 942.0,498.20 943.0,498.20 944.0,498.20 945.0,498.20 946.0,498.20 947.0,498.20 948.0,498.20 949.0,498.20 950.0,498.20 951.0,498.20 952.0,498.20 953.0,498.20 954.0,498.20 955.0,498.20 956.0,498.20 957.0,498.20 958.0,498.20 959.0,497.33 960.0,497.11 961.0,496.88 962.0,496.65 963.0,496.41 964.0,496.17 965.0,495.93 966.0,495.68 967.0,495.43 968.0,495.18 969.0,494.92 970.0,494.66 971.0,494.39 972.0,494.12 973.0,493.85 974.0,493.57 975.0,493.30 976.0,493.01 977.0,492.73 978.0,492.44 979.0,492.16 980.0,491.86 981.0,491.57 982.0,491.27 983.0,490.97 984.0,490.67 985.0,490.37 986.0,490.07 987.0,489.76 988.0,489.45 989.0,489.14 990.0,488.82 991.0,488.50 992.0,488.18 993.0,487.85 994.0,487.52 995.0,487.18 996.0,486.83 997.0,486.48 998.0,486.12 999.0,485.75 1000.0,485.38 1001.0,484.99 1002.0,484.60 1003.0,484.20 1004.0,483.78 1005.0,483.36 1006.0,482.92 1007.0,482.47 1008.0,482.01 1009.0,481.54 1010.0,481.05 1011.0,480.55 1012.0,480.04 1013.0,479.51 1014.0,478.96 1015.0,478.40 1016.0,477.82 1017.0,477.23 1018.0,476.61 1019.0,475.98 1020.0,475.34 1021.0,474.67 1022.0,473.98 1023.0,473.27 1024.0,472.53 1025.0,471.77 1026.0,470.99 1027.0,470.18 1028.0,469.35 1029.0,468.49 1030.0,467.60 1031.0,466.68 1032.0,465.73 1033.0,464.75 1034.0,463.74 1035.0,462.69 1036.0,461.61 1037.0,460.50 1038.0,459.35 1039.0,458.17 1040.0,456.94 1041.0,455.68 1042.0,454.38 1043.0,453.04 1044.0,451.66 1045.0,450.24 1046.0,448.77 1047.0,447.26 1048.0,445.70 1049.0,444.10 1050.0,442.45 1051.0,440.75 1052.0,439.01 1053.0,437.22 1054.0,435.37 1055.0,433.49 1056.0,431.58 1057.0,429.65 1058.0,427.71 1059.0,425.77 1060.0,423.85 1061.0,421.95 1062.0,420.08 1063.0,418.26 1064.0,416.49 1065.0,414.79 1066.0,413.16 1067.0,411.62 1068.0,410.18 1069.0,408.85 1070.0,407.63 1071.0,406.54 1072.0,405.59 1073.0,404.76 1074.0,404.05 1075.0,403.44 1076.0,402.94 1077.0,402.53 1078.0,402.22 1079.0,401.98 1080.0,401.81 1081.0,401.71 1082.0,401.67 1083.0,401.67 1084.0,401.72 1085.0,401.81 1086.0,401.92 1087.0,402.06 1088.0,402.23 1089.0,402.43 1090.0,402.67 1091.0,402.96 1092.0,403.30 1093.0,403.69 1094.0,404.14 1095.0,404.66 1096.0,405.25 1097.0,405.91 1098.0,406.64 1099.0,407.47 1100.0,408.38 1101.0,409.38 1102.0,410.46 1103.0,411.60 1104.0,412.78 1105.0,413.99 1106.0,415.22 1107.0,416.44 1108.0,417.64 1109.0,418.80 1110.0,419.91 1111.0,420.95 1112.0,421.90 1113.0,422.75 1114.0,423.48 1115.0,424.08 1116.0,424.52 1117.0,424.80 1118.0,424.89 1119.0,424.79 1120.0,424.47 1121.0,423.94 1122.0,423.20 1123.0,422.25 1124.0,421.10 1125.0,419.75 1126.0,418.19 1127.0,416.44 1128.0,414.48 1129.0,412.33 1130.0,409.99 1131.0,407.46 1132.0,404.73 1133.0,401.82 1134.0,398.72 1135.0,395.44 1136.0,391.98 1137.0,388.35 1138.0,384.57 1139.0,380.65 1140.0,376.60 1141.0,372.43 1142.0,368.16 1143.0,363.79 1144.0,359.36 1145.0,354.85 1146.0,350.30 1147.0,345.70 1148.0,341.08 1149.0,336.44 1150.0,331.81 1151.0,327.18 1152.0,322.58 1153.0,318.02 1154.0,313.51 1155.0,309.05 1156.0,304.68 1157.0,300.38 1158.0,296.19 1159.0,292.11 1160.0,288.15 1161.0,284.33 1162.0,280.65 1163.0,277.14 1164.0,273.80 1165.0,270.64 1166.0,267.67 1167.0,264.88 1168.0,262.28 1169.0,259.84 1170.0,257.57 1171.0,255.47 1172.0,253.52 1173.0,251.72 1174.0,250.08 1175.0,248.57 1176.0,247.20 1177.0,245.97 1178.0,244.87 1179.0,243.88 1180.0,243.02 1181.0,242.27 1182.0,241.63 1183.0,241.09 1184.0,240.64 1185.0,240.30 1186.0,240.05 1187.0,239.88 1188.0,239.81 1189.0,239.81 1190.0,239.90 1191.0,240.07 1192.0,240.31 1193.0,240.63 1194.0,241.01 1195.0,241.46 1196.0,241.98 1197.0,242.56 1198.0,243.19 1199.0,243.89 1200.0,244.63 1201.0,245.43 1202.0,246.28 1203.0,247.19 1204.0,248.15 1205.0,249.18 1206.0,250.27 1207.0,251.43 1208.0,252.66 1209.0,253.96 1210.0,255.34 1211.0,256.79 1212.0,258.32 1213.0,259.93 1214.0,261.62 1215.0,263.40 1216.0,265.27 1217.0,267.23 1218.0,269.28 1219.0,271.43 1220.0,273.68 1221.0,276.02 1222.0,278.46 1223.0,280.99 1224.0,283.61 1225.0,286.32 1226.0,289.10 1227.0,291.97 1228.0,294.90 1229.0,297.91 1230.0,300.98 1231.0,304.12 1232.0,307.32 1233.0,310.57 1234.0,313.88 1235.0,317.23 1236.0,320.63 1237.0,324.08 1238.0,327.56 1239.0,331.07 1240.0,334.62 1241.0,338.19 1242.0,341.79 1243.0,345.39 1244.0,349.00 1245.0,352.60 1246.0,356.20 1247.0,359.78 1248.0,363.34 1249.0,366.87 1250.0,370.37 1251.0,373.82 1252.0,377.23 1253.0,380.58 1254.0,383.87 1255.0,387.09 1256.0,390.24 1257.0,393.30 1258.0,396.27 1259.0,399.15 1260.0,401.93 1261.0,404.61 1262.0,407.19 1263.0,409.67 1264.0,412.05 1265.0,414.33 1266.0,416.50 1267.0,418.58 1268.0,420.55 1269.0,422.41 1270.0,424.17 1271.0,425.83 1272.0,427.38 1273.0,428.83 1274.0,430.17 1275.0,431.40 1276.0,432.53 1277.0,433.54 1278.0,434.45 1279.0,435.26 1280.0,435.95 1281.0,436.54 1282.0,437.03 1283.0,437.43 1284.0,437.72 1285.0,437.93 1286.0,438.04 1287.0,438.07 1288.0,438.01 1289.0,437.86 1290.0,437.64 1291.0,437.34 1292.0,436.97 1293.0,436.52 1294.0,436.00 1295.0,435.41 1296.0,434.77 1297.0,434.05 1298.0,433.28 1299.0,432.46 1300.0,431.59 1301.0,430.68 1302.0,429.74 1303.0,428.77 1304.0,427.79 1305.0,426.80 1306.0,425.81 1307.0,424.82 1308.0,423.84 1309.0,422.89 1310.0,421.97 1311.0,421.08 1312.0,420.23 1313.0,419.43 1314.0,418.70 1315.0,418.02 1316.0,417.42 1317.0,416.90 1318.0,416.47 1319.0,416.10 1320.0,415.80 1321.0,415.54 1322.0,415.31 1323.0,415.11 1324.0,414.92 1325.0,414.72 1326.0,414.51 1327.0,414.28 1328.0,414.00 1329.0,413.68 1330.0,413.29 1331.0,412.82 1332.0,412.26" stroke="#000" stroke-width="7" fill="none" stroke-linejoin="round"/>
<path d="M188.0,502.34 189.0,504.13 190.0,505.99 191.0,507.91 192.0,509.87 193.0,511.88 194.0,513.90 195.0,515.94 196.0,517.98 197.0,520.01 198.0,522.02 199.0,523.99 200.0,525.91 201.0,527.78 202.0,529.57 203.0,531.31 204.0,533.05 205.0,534.83 206.0,536.70 207.0,538.70 208.0,540.82 209.0,543.03 210.0,545.29 211.0,547.60 212.0,549.92 213.0,552.25 214.0,554.59 215.0,556.93 216.0,559.26 217.0,561.60 218.0,563.94 219.0,566.27 220.0,568.60 221.0,570.92 222.0,573.24 223.0,575.54 224.0,577.83 225.0,580.10 226.0,582.37 227.0,584.61 228.0,586.84 229.0,589.04 230.0,591.23 231.0,593.39 232.0,595.52 233.0,597.63 234.0,599.71 235.0,601.75 236.0,603.77 237.0,605.75 238.0,607.70 239.0,609.62 240.0,611.51 241.0,613.39 242.0,615.24 243.0,617.09 244.0,618.93 245.0,620.77 246.0,622.62 247.0,624.48 248.0,626.34 249.0,628.23 250.0,630.14 251.0,632.08 252.0,634.06 253.0,636.07 254.0,638.12 255.0,640.23 256.0,642.38 257.0,644.60 258.0,646.87 259.0,649.22 260.0,651.63 261.0,654.13 262.0,656.70 263.0,659.33 264.0,662.01 265.0,664.75 266.0,667.52 267.0,670.32 268.0,673.15 269.0,675.99 270.0,678.83 271.0,681.67 272.0,684.50 273.0,687.30 274.0,690.08 275.0,692.82 276.0,695.51 277.0,698.15 278.0,700.72 279.0,703.23 280.0,705.65 281.0,707.98 282.0,710.22 283.0,712.35 284.0,714.36 285.0,716.26 286.0,718.03 287.0,719.67 288.0,721.16 289.0,722.51 290.0,723.70 291.0,724.72 292.0,725.58 293.0,726.25 294.0,726.74 295.0,727.03 296.0,727.12 297.0,727.01 298.0,726.68 299.0,726.15 300.0,725.44 301.0,724.55 302.0,723.49 303.0,722.29 304.0,720.94 305.0,719.46 306.0,717.87 307.0,716.17 308.0,714.38 309.0,712.52 310.0,710.58 311.0,708.58 312.0,706.54 313.0,704.47 314.0,702.38 315.0,700.28 316.0,698.18 317.0,696.10 318.0,694.04 319.0,692.03 320.0,690.06 321.0,688.16 322.0,686.34 323.0,684.60 324.0,682.95 325.0,681.41 326.0,679.96 327.0,678.63 328.0,677.40 329.0,676.29 330.0,675.30 331.0,674.43 332.0,673.69 333.0,673.08 334.0,672.60 335.0,672.27 336.0,672.07 337.0,672.02 338.0,672.12 339.0,672.37 340.0,672.75 341.0,673.27 342.0,673.92 343.0,674.69 344.0,675.59 345.0,676.60 346.0,677.73 347.0,678.96 348.0,680.30 349.0,681.74 350.0,683.27 351.0,684.89 352.0,686.60 353.0,688.38 354.0,690.25 355.0,692.17 356.0,694.16 357.0,696.20 358.0,698.27 359.0,700.38 360.0,702.51 361.0,704.66 362.0,706.82 363.0,708.98 364.0,711.12 365.0,713.26 366.0,715.36 367.0,717.43 368.0,719.46 369.0,721.44 370.0,723.37 371.0,725.25 372.0,727.08 373.0,728.86 374.0,730.57 375.0,732.24 376.0,733.84 377.0,735.38 378.0,736.85 379.0,738.27 380.0,739.61 381.0,740.89 382.0,742.10 383.0,743.24 384.0,744.30 385.0,745.29 386.0,746.21 387.0,747.05 388.0,747.82 389.0,748.51 390.0,749.13 391.0,749.67 392.0,750.13 393.0,750.51 394.0,750.81 395.0,751.04 396.0,751.18 397.0,751.25 398.0,751.23 399.0,751.13 400.0,750.95 401.0,750.69 402.0,750.34 403.0,749.91 404.0,749.39 405.0,748.79 406.0,748.10 407.0,747.32 408.0,746.46 409.0,745.51 410.0,744.47 411.0,743.34 412.0,742.12 413.0,740.82 414.0,739.42 415.0,737.93 416.0,736.35 417.0,734.69 418.0,732.95 419.0,731.14 420.0,729.25 421.0,727.30 422.0,725.29 423.0,723.22 424.0,721.09 425.0,718.92 426.0,716.70 427.0,714.44 428.0,712.15 429.0,709.82 430.0,707.46 431.0,705.08 432.0,702.68 433.0,700.26 434.0,697.84 435.0,695.40 436.0,692.96 437.0,690.53 438.0,688.10 439.0,685.68 440.0,683.27 441.0,680.88 442.0,678.51 443.0,676.17 444.0,673.84 445.0,671.55 446.0,669.28 447.0,667.05 448.0,664.85 449.0,662.68 450.0,660.55 451.0,658.46 452.0,656.41 453.0,654.41 454.0,652.45 455.0,650.54 456.0,648.67 457.0,646.86 458.0,645.11 459.0,643.41 460.0,641.77 461.0,640.19 462.0,638.67 463.0,637.22 464.0,635.84 465.0,634.52 466.0,633.28 467.0,632.10 468.0,631.01 469.0,629.99 470.0,629.05 471.0,628.19 472.0,627.42 473.0,626.72 474.0,626.10 475.0,625.56 476.0,625.10 477.0,624.71 478.0,624.40 479.0,624.16 480.0,624.00 481.0,623.90 482.0,623.88 483.0,623.93 484.0,624.05 485.0,624.24 486.0,624.50 487.0,624.82 488.0,625.21 489.0,625.66 490.0,626.18 491.0,626.76 492.0,627.40 493.0,628.10 494.0,628.86 495.0,629.69 496.0,630.57 497.0,631.51 498.0,632.50 499.0,633.55 500.0,634.65 501.0,635.81 502.0,637.01 503.0,638.25 504.0,639.53 505.0,640.83 506.0,642.14 507.0,643.47 508.0,644.80 509.0,646.13 510.0,647.44 511.0,648.74 512.0,650.02 513.0,651.26 514.0,652.46 515.0,653.61 516.0,654.71 517.0,655.75 518.0,656.73 519.0,657.64 520.0,658.47 521.0,659.23 522.0,659.90 523.0,660.48 524.0,660.96 525.0,661.35 526.0,661.63 527.0,661.80 528.0,661.85 529.0,661.79 530.0,661.61 531.0,661.31 532.0,660.90 533.0,660.39 534.0,659.78 535.0,659.07 536.0,658.27 537.0,657.38 538.0,656.41 539.0,655.37 540.0,654.25 541.0,653.07 542.0,651.83 543.0,650.52 544.0,649.17 545.0,647.77 546.0,646.32 547.0,644.83 548.0,643.31 549.0,641.77 550.0,640.19 551.0,638.60 552.0,636.99 553.0,635.38 554.0,633.76 555.0,632.13 556.0,630.51 557.0,628.90 558.0,627.31 559.0,625.73 560.0,624.18 561.0,622.67 562.0,621.22 563.0,619.83 564.0,618.53 565.0,617.31 566.0,616.21 567.0,615.22 568.0,614.37 569.0,613.67 570.0,613.12 571.0,612.75 572.0,612.57 573.0,612.59 574.0,612.82 575.0,613.27 576.0,613.97 577.0,614.92 578.0,616.13 579.0,617.63 580.0,619.42 581.0,621.52 582.0,623.93 583.0,626.67 584.0,629.70 585.0,633.00 586.0,636.52 587.0,640.25 588.0,644.14 589.0,648.16 590.0,652.28 591.0,656.47 592.0,660.69 593.0,664.92 594.0,669.14 595.0,673.35 596.0,677.53 597.0,681.67 598.0,685.78 599.0,689.83 600.0,693.83 601.0,697.77 602.0,701.63 603.0,705.42 604.0,709.16 605.0,712.91 606.0,716.71 607.0,720.59 608.0,724.62 609.0,728.82 610.0,733.23 611.0,737.80 612.0,742.45 613.0,747.10 614.0,751.68 615.0,756.09 616.0,760.27 617.0,764.13 618.0,767.68 619.0,770.89 620.0,773.80 621.0,776.39 622.0,778.68 623.0,780.67 624.0,782.37 625.0,783.79 626.0,784.95 627.0,785.86 628.0,786.53 629.0,786.99 630.0,787.23 631.0,787.28 632.0,787.15 633.0,786.84 634.0,786.35 635.0,785.68 636.0,784.84 637.0,783.83 638.0,782.65 639.0,781.31 640.0,779.80 641.0,778.13 642.0,776.30 643.0,774.31 644.0,772.17 645.0,769.88 646.0,767.44 647.0,764.86 648.0,762.13 649.0,759.26 650.0,756.25 651.0,753.11 652.0,749.83 653.0,746.42 654.0,742.88 655.0,739.22 656.0,735.43 657.0,731.52 658.0,727.49 659.0,723.35 660.0,719.09 661.0,714.72 662.0,710.26 663.0,705.72 664.0,701.13 665.0,696.52 666.0,691.91 667.0,687.33 668.0,682.80 669.0,678.35 670.0,674.01 671.0,669.80 672.0,665.75 673.0,661.88 674.0,658.22 675.0,654.79 676.0,651.60 677.0,648.66 678.0,645.94 679.0,643.44 680.0,641.15 681.0,639.06 682.0,637.15 683.0,635.43 684.0,633.87 685.0,632.47 686.0,631.22 687.0,630.11 688.0,629.13 689.0,628.26 690.0,627.51 691.0,626.85 692.0,626.28 693.0,625.80 694.0,625.39 695.0,625.04 696.0,624.75 697.0,624.51 698.0,624.32 699.0,624.15 700.0,624.02 701.0,623.89 702.0,623.78 703.0,623.67 704.0,623.55 705.0,623.41 706.0,623.25 707.0,623.06 708.0,622.82 709.0,622.54 710.0,622.21 711.0,621.81 712.0,621.34 713.0,620.82 714.0,620.23 715.0,619.58 716.0,618.85 717.0,618.06 718.0,617.21 719.0,616.28 720.0,615.28 721.0,614.21 722.0,613.06 723.0,611.84 724.0,610.54 725.0,609.17 726.0,607.72 727.0,606.20 728.0,604.59 729.0,602.93 730.0,601.19 731.0,599.40 732.0,597.56 733.0,595.67 734.0,593.74 735.0,591.77 736.0,589.77 737.0,587.75 738.0,585.70 739.0,583.64 740.0,581.57 741.0,579.49 742.0,577.41 743.0,575.34 744.0,573.28 745.0,571.23 746.0,569.20 747.0,567.16 748.0,565.12 749.0,563.06 750.0,560.99 751.0,558.89 752.0,556.75 753.0,554.58 754.0,552.36 755.0,550.10 756.0,547.84 757.0,545.57 758.0,543.32 759.0,541.10 760.0,538.93 761.0,536.83 762.0,534.82 763.0,532.88 764.0,531.02 765.0,529.24 766.0,527.53 767.0,525.90 768.0,524.34 769.0,522.85 770.0,521.43 771.0,520.08 772.0,518.79 773.0,517.56 774.0,516.40 775.0,515.29 776.0,514.24 777.0,513.24 778.0,512.30 779.0,511.41 780.0,510.57 781.0,509.78 782.0,509.04 783.0,508.33 784.0,507.68 785.0,507.06 786.0,506.48 787.0,505.93 788.0,505.42 789.0,504.95 790.0,504.50 791.0,504.09 792.0,503.70 793.0,503.34 794.0,503.00 795.0,502.68 796.0,502.39 797.0,502.11 798.0,501.85 799.0,501.61 800.0,501.38 801.0,501.17 802.0,500.97 803.0,500.79 804.0,500.62 805.0,500.47 806.0,500.33 807.0,500.19 808.0,500.07 809.0,499.96 810.0,499.85 811.0,499.76 812.0,499.67 813.0,499.59 814.0,499.51 815.0,499.44 816.0,499.37 817.0,499.30 818.0,499.24 819.0,499.18 820.0,499.11 821.0,499.05 822.0,498.99 823.0,498.93 824.0,498.86 825.0,498.80 826.0,498.73 827.0,498.66 828.0,498.59 829.0,498.52 830.0,498.20 831.0,498.20 832.0,498.20 833.0,498.20 834.0,498.20 835.0,498.20 836.0,498.20 837.0,498.20 838.0,498.20 839.0,498.20 840.0,498.20 841.0,498.20 842.0,498.20 843.0,498.20 844.0,498.20 845.0,498.20 846.0,498.20 847.0,498.20 848.0,498.20 849.0,498.20 850.0,498.20 851.0,498.20 852.0,498.20 853.0,498.20 854.0,498.20 855.0,498.20 856.0,498.20 857.0,498.20 858.0,498.20 859.0,498.20 860.0,498.20 861.0,498.20 862.0,498.20 863.0,498.20 864.0,498.20 865.0,498.20 866.0,498.20 867.0,498.20 868.0,498.20 869.0,498.20 870.0,498.20 871.0,498.20 872.0,498.20 873.0,498.20 874.0,498.20 875.0,498.20 876.0,498.20 877.0,498.20 878.0,498.20 879.0,498.20 880.0,498.20 881.0,498.20 882.0,498.20 883.0,498.20 884.0,498.20 885.0,498.20 886.0,498.20 887.0,498.20 888.0,498.20 889.0,498.20 890.0,498.20 891.0,498.20 892.0,498.20 893.0,498.20 894.0,498.20 895.0,498.20 896.0,498.20 897.0,498.20 898.0,498.20 899.0,498.20 900.0,498.20 901.0,498.20 902.0,498.20 903.0,498.20 904.0,498.20 905.0,498.20 906.0,498.20 907.0,498.20 908.0,498.20 909.0,498.20 910.0,498.20 911.0,498.20 912.0,498.20 913.0,498.20 914.0,498.20 915.0,498.20 916.0,498.20 917.0,498.20 918.0,498.20 919.0,498.20 920.0,498.20 921.0,498.20 922.0,498.20 923.0,498.20 924.0,498.20 925.0,498.20 926.0,498.20 927.0,498.20 928.0,498.20 929.0,498.20 930.0,498.20 931.0,498.20 932.0,498.20 933.0,498.20 934.0,498.20 935.0,498.20 936.0,498.20 937.0,498.20 938.0,498.20 939.0,498.20 940.0,498.20 941.0,498.20 942.0,498.20 943.0,498.20 944.0,498.20 945.0,498.20 946.0,498.20 947.0,498.20 948.0,498.20 949.0,498.20 950.0,498.20 951.0,498.20 952.0,498.20 953.0,498.20 954.0,498.20 955.0,498.20 956.0,498.20 957.0,498.20 958.0,498.20 959.0,499.07 960.0,499.29 961.0,499.52 962.0,499.75 963.0,499.99 964.0,500.23 965.0,500.47 966.0,500.72 967.0,500.97 968.0,501.22 969.0,501.48 970.0,501.74 971.0,502.01 972.0,502.28 973.0,502.55 974.0,502.83 975.0,503.10 976.0,503.39 977.0,503.67 978.0,503.96 979.0,504.24 980.0,504.54 981.0,504.83 982.0,505.13 983.0,505.43 984.0,505.73 985.0,506.03 986.0,506.33 987.0,506.64 988.0,506.95 989.0,507.26 990.0,507.58 991.0,507.90 992.0,508.22 993.0,508.55 994.0,508.88 995.0,509.22 996.0,509.57 997.0,509.92 998.0,510.28 999.0,510.65 1000.0,511.02 1001.0,511.41 1002.0,511.80 1003.0,512.20 1004.0,512.62 1005.0,513.04 1006.0,513.48 1007.0,513.93 1008.0,514.39 1009.0,514.86 1010.0,515.35 1011.0,515.85 1012.0,516.36 1013.0,516.89 1014.0,517.44 1015.0,518.00 1016.0,518.58 1017.0,519.17 1018.0,519.79 1019.0,520.42 1020.0,521.06 1021.0,521.73 1022.0,522.42 1023.0,523.13 1024.0,523.87 1025.0,524.63 1026.0,525.41 1027.0,526.22 1028.0,527.05 1029.0,527.91 1030.0,528.80 1031.0,529.72 1032.0,530.67 1033.0,531.65 1034.0,532.66 1035.0,533.71 1036.0,534.79 1037.0,535.90 1038.0,537.05 1039.0,538.23 1040.0,539.46 1041.0,540.72 1042.0,542.02 1043.0,543.36 1044.0,544.74 1045.0,546.16 1046.0,547.63 1047.0,549.14 1048.0,550.70 1049.0,552.30 1050.0,553.95 1051.0,555.65 1052.0,557.39 1053.0,559.18 1054.0,561.03 1055.0,562.91 1056.0,564.82 1057.0,566.75 1058.0,568.69 1059.0,570.63 1060.0,572.55 1061.0,574.45 1062.0,576.32 1063.0,578.14 1064.0,579.91 1065.0,581.61 1066.0,583.24 1067.0,584.78 1068.0,586.22 1069.0,587.55 1070.0,588.77 1071.0,589.86 1072.0,590.81 1073.0,591.64 1074.0,592.35 1075.0,592.96 1076.0,593.46 1077.0,593.87 1078.0,594.18 1079.0,594.42 1080.0,594.59 1081.0,594.69 1082.0,594.73 1083.0,594.73 1084.0,594.68 1085.0,594.59 1086.0,594.48 1087.0,594.34 1088.0,594.17 1089.0,593.97 1090.0,593.73 1091.0,593.44 1092.0,593.10 1093.0,592.71 1094.0,592.26 1095.0,591.74 1096.0,591.15 1097.0,590.49 1098.0,589.76 1099.0,588.93 1100.0,588.02 1101.0,587.02 1102.0,585.94 1103.0,584.80 1104.0,583.62 1105.0,582.41 1106.0,581.18 1107.0,579.96 1108.0,578.76 1109.0,577.60 1110.0,576.49 1111.0,575.45 1112.0,574.50 1113.0,573.65 1114.0,572.92 1115.0,572.32 1116.0,571.88 1117.0,571.60 1118.0,571.51 1119.0,571.61 1120.0,571.93 1121.0,572.46 1122.0,573.20 1123.0,574.15 1124.0,575.30 1125.0,576.65 1126.0,578.21 1127.0,579.96 1128.0,581.92 1129.0,584.07 1130.0,586.41 1131.0,588.94 1132.0,591.67 1133.0,594.58 1134.0,597.68 1135.0,600.96 1136.0,604.42 1137.0,608.05 1138.0,611.83 1139.0,615.75 1140.0,619.80 1141.0,623.97 1142.0,628.24 1143.0,632.61 1144.0,637.04 1145.0,641.55 1146.0,646.10 1147.0,650.70 1148.0,655.32 1149.0,659.96 1150.0,664.59 1151.0,669.22 1152.0,673.82 1153.0,678.38 1154.0,682.89 1155.0,687.35 1156.0,691.72 1157.0,696.02 1158.0,700.21 1159.0,704.29 1160.0,708.25 1161.0,712.07 1162.0,715.75 1163.0,719.26 1164.0,722.60 1165.0,725.76 1166.0,728.73 1167.0,731.52 1168.0,734.12 1169.0,736.56 1170.0,738.83 1171.0,740.93 1172.0,742.88 1173.0,744.68 1174.0,746.32 1175.0,747.83 1176.0,749.20 1177.0,750.43 1178.0,751.53 1179.0,752.52 1180.0,753.38 1181.0,754.13 1182.0,754.77 1183.0,755.31 1184.0,755.76 1185.0,756.10 1186.0,756.35 1187.0,756.52 1188.0,756.59 1189.0,756.59 1190.0,756.50 1191.0,756.33 1192.0,756.09 1193.0,755.77 1194.0,755.39 1195.0,754.94 1196.0,754.42 1197.0,753.84 1198.0,753.21 1199.0,752.51 1200.0,751.77 1201.0,750.97 1202.0,750.12 1203.0,749.21 1204.0,748.25 1205.0,747.22 1206.0,746.13 1207.0,744.97 1208.0,743.74 1209.0,742.44 1210.0,741.06 1211.0,739.61 1212.0,738.08 1213.0,736.47 1214.0,734.78 1215.0,733.00 1216.0,731.13 1217.0,729.17 1218.0,727.12 1219.0,724.97 1220.0,722.72 1221.0,720.38 1222.0,717.94 1223.0,715.41 1224.0,712.79 1225.0,710.08 1226.0,707.30 1227.0,704.43 1228.0,701.50 1229.0,698.49 1230.0,695.42 1231.0,692.28 1232.0,689.08 1233.0,685.83 1234.0,682.52 1235.0,679.17 1236.0,675.77 1237.0,672.32 1238.0,668.84 1239.0,665.33 1240.0,661.78 1241.0,658.21 1242.0,654.61 1243.0,651.01 1244.0,647.40 1245.0,643.80 1246.0,640.20 1247.0,636.62 1248.0,633.06 1249.0,629.53 1250.0,626.03 1251.0,622.58 1252.0,619.17 1253.0,615.82 1254.0,612.53 1255.0,609.31 1256.0,606.16 1257.0,603.10 1258.0,600.13 1259.0,597.25 1260.0,594.47 1261.0,591.79 1262.0,589.21 1263.0,586.73 1264.0,584.35 1265.0,582.07 1266.0,579.90 1267.0,577.82 1268.0,575.85 1269.0,573.99 1270.0,572.23 1271.0,570.57 1272.0,569.02 1273.0,567.57 1274.0,566.23 1275.0,565.00 1276.0,563.87 1277.0,562.86 1278.0,561.95 1279.0,561.14 1280.0,560.45 1281.0,559.86 1282.0,559.37 1283.0,558.97 1284.0,558.68 1285.0,558.47 1286.0,558.36 1287.0,558.33 1288.0,558.39 1289.0,558.54 1290.0,558.76 1291.0,559.06 1292.0,559.43 1293.0,559.88 1294.0,560.40 1295.0,560.99 1296.0,561.63 1297.0,562.35 1298.0,563.12 1299.0,563.94 1300.0,564.81 1301.0,565.72 1302.0,566.66 1303.0,567.63 1304.0,568.61 1305.0,569.60 1306.0,570.59 1307.0,571.58 1308.0,572.56 1309.0,573.51 1310.0,574.43 1311.0,575.32 1312.0,576.17 1313.0,576.97 1314.0,577.70 1315.0,578.38 1316.0,578.98 1317.0,579.50 1318.0,579.93 1319.0,580.30 1320.0,580.60 1321.0,580.86 1322.0,581.09 1323.0,581.29 1324.0,581.48 1325.0,581.68 1326.0,581.89 1327.0,582.12 1328.0,582.40 1329.0,582.72 1330.0,583.11 1331.0,583.58 1332.0,584.14" stroke="#000" stroke-width="7" fill="none" stroke-linejoin="round"/>
</g>
<line x1="760" y1="41.85" x2="760" y2="952" stroke="#1c1c1c" stroke-width="3.8" stroke-dasharray="12.6 4.5 3.8 4.45" stroke-dashoffset="1.7"/>
<text x="162.5" y="55.80" font-size="51" text-anchor="end">40</text>
<text x="162.5" y="284.50" font-size="51" text-anchor="end">20</text>
<text x="162.5" y="513.20" font-size="51" text-anchor="end">0</text>
<text x="162.5" y="741.90" font-size="51" text-anchor="end">20</text>
<text x="162.5" y="970.60" font-size="51" text-anchor="end">40</text>
<rect x="88" y="728.8" width="22.8" height="3" fill="#000"/>
<rect x="80.6" y="958.9" width="22.6" height="2.9" fill="#000"/>
<text x="305.60" y="1026.5" font-size="51" text-anchor="middle">-4</text>
<text x="532.80" y="1026.5" font-size="51" text-anchor="middle">-2</text>
<text x="760.00" y="1026.5" font-size="51" text-anchor="middle">0</text>
<text x="987.20" y="1026.5" font-size="51" text-anchor="middle">2</text>
<text x="1214.40" y="1026.5" font-size="51" text-anchor="middle">4</text>
<line x1="205" y1="64.3" x2="312" y2="64.3" stroke="#c40c1e" stroke-width="7" stroke-linecap="round"/>
<text x="325" y="82.3" font-size="47" fill="#c40c1e">O-2p</text>
<line x1="205" y1="124.2" x2="312" y2="124.2" stroke="#33ff33" stroke-width="7" stroke-linecap="round"/>
<text x="325" y="141.2" font-size="47" fill="#33ff33">Ti-3d</text>
<line x1="205" y1="183.8" x2="312" y2="183.8" stroke="#000" stroke-width="7" stroke-linecap="round"/>
<text x="325" y="200.8" font-size="47" fill="#000">Total</text>
<text x="771" y="104.7" font-size="60">Fermi energy</text>
<text x="531.5" y="1096.3" font-size="78">Energy</text>
<text x="870.1" y="1096.3" font-size="78">eV</text>
<path d="M857.5,1037 C843,1046 835.5,1056 835.5,1067.3 C835.5,1079 843,1089 858,1098 L859.6,1096.3 C846,1087 840.5,1078 840.5,1067.3 C840.5,1057 846,1048 859.2,1038.8 Z" fill="#000"/>
<path d="M857.5,1037 C843,1046 835.5,1056 835.5,1067.3 C835.5,1079 843,1089 858,1098 L859.6,1096.3 C846,1087 840.5,1078 840.5,1067.3 C840.5,1057 846,1048 859.2,1038.8 Z" fill="#000" transform="translate(1831,0) scale(-1,1)"/>
<text transform="translate(78.8,850.4) rotate(-90)" font-size="77.7">DOS (electrons/eV)</text>
</svg></body></html>
